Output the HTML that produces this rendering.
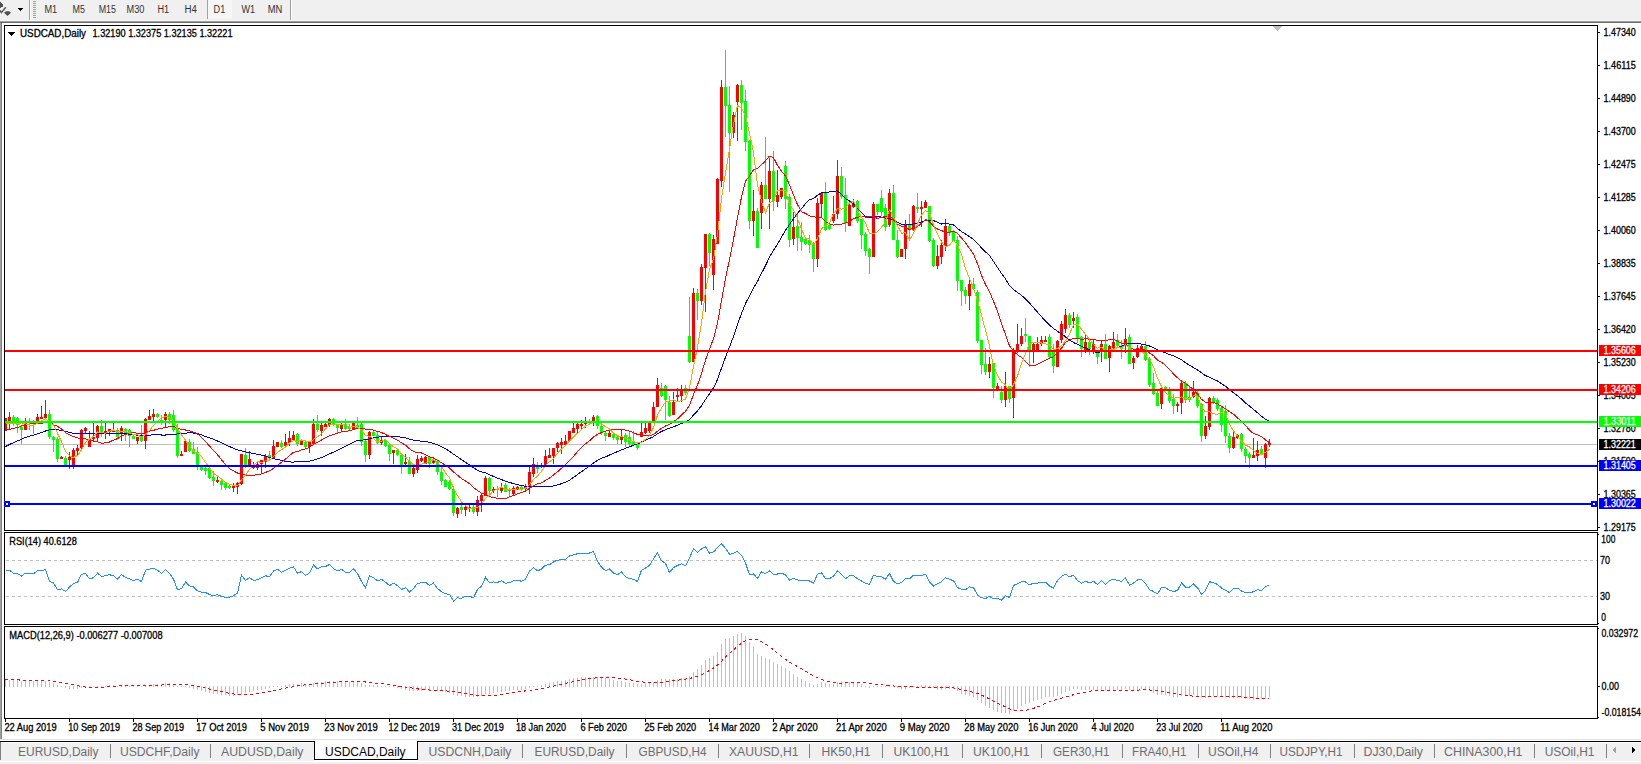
<!DOCTYPE html>
<html><head><meta charset="utf-8"><style>
html,body{margin:0;padding:0;background:#fff;width:1641px;height:764px;overflow:hidden}
svg{display:block}
text{font-family:"Liberation Sans", sans-serif;}
</style></head><body>
<svg width="1641" height="764" viewBox="0 0 1641 764" shape-rendering="crispEdges">
<rect x="0" y="0" width="1641" height="764" fill="#ffffff"/>
<rect x="0" y="0" width="1641" height="20" fill="#f0f0f0"/>
<rect x="0" y="20" width="1641" height="1" fill="#f5f5f5"/>
<rect x="0" y="21" width="1641" height="1" fill="#a0a0a0"/>
<rect x="0" y="22" width="1641" height="1" fill="#696969"/>
<rect x="0" y="23" width="1" height="716" fill="#a0a0a0"/>
<rect x="1" y="23" width="1" height="716" fill="#808080"/>
<path d="M0,2.3 L0.9,2.3 L3.9,6.3 L0,8 Z" fill="#505050"/>
<path d="M0,10.3 L1.4,12.6 L5.8,7.3" fill="none" stroke="#505050" stroke-width="1.4" shape-rendering="auto"/>
<path d="M6,11.2 L9.2,11.2 L11,12.8 L7.5,16 L4,12.8 Z" fill="#505050" shape-rendering="auto"/>
<path d="M17.8,8 L23,8 L20.4,11 Z" fill="#000"/>
<rect x="29" y="0" width="1" height="20" fill="#a0a0a0"/>
<rect x="30" y="0" width="1" height="20" fill="#ffffff"/>
<rect x="33" y="1" width="3" height="1" fill="#a0a0a0"/>
<rect x="33" y="3" width="3" height="1" fill="#a0a0a0"/>
<rect x="33" y="5" width="3" height="1" fill="#a0a0a0"/>
<rect x="33" y="7" width="3" height="1" fill="#a0a0a0"/>
<rect x="33" y="9" width="3" height="1" fill="#a0a0a0"/>
<rect x="33" y="11" width="3" height="1" fill="#a0a0a0"/>
<rect x="33" y="13" width="3" height="1" fill="#a0a0a0"/>
<rect x="33" y="15" width="3" height="1" fill="#a0a0a0"/>
<rect x="33" y="17" width="3" height="1" fill="#a0a0a0"/>
<rect x="207" y="0" width="25" height="19" fill="#f6f6f6"/>
<rect x="207" y="0" width="1" height="19" fill="#a0a0a0"/>
<rect x="290" y="0" width="1" height="20" fill="#a0a0a0"/>
<rect x="291" y="0" width="1" height="20" fill="#ffffff"/>
<text x="44.4" y="13" font-size="10" fill="#333333" textLength="12.8" lengthAdjust="spacingAndGlyphs" class="nostroke">M1</text>
<text x="72.6" y="13" font-size="10" fill="#333333" textLength="12.4" lengthAdjust="spacingAndGlyphs" class="nostroke">M5</text>
<text x="98.7" y="13" font-size="10" fill="#333333" textLength="17.3" lengthAdjust="spacingAndGlyphs" class="nostroke">M15</text>
<text x="126.5" y="13" font-size="10" fill="#333333" textLength="17.9" lengthAdjust="spacingAndGlyphs" class="nostroke">M30</text>
<text x="157.5" y="13" font-size="10" fill="#333333" textLength="11.7" lengthAdjust="spacingAndGlyphs" class="nostroke">H1</text>
<text x="184.6" y="13" font-size="10" fill="#333333" textLength="12.4" lengthAdjust="spacingAndGlyphs" class="nostroke">H4</text>
<text x="213.6" y="13" font-size="10" fill="#333333" textLength="11.7" lengthAdjust="spacingAndGlyphs" class="nostroke">D1</text>
<text x="241.4" y="13" font-size="10" fill="#333333" textLength="13.6" lengthAdjust="spacingAndGlyphs" class="nostroke">W1</text>
<text x="267.7" y="13" font-size="10" fill="#333333" textLength="14.6" lengthAdjust="spacingAndGlyphs" class="nostroke">MN</text>
<rect x="4.5" y="25.5" width="1593" height="505" fill="#fff" stroke="#000" stroke-width="1"/>
<rect x="4.5" y="532.5" width="1593" height="92" fill="#fff" stroke="#000" stroke-width="1"/>
<rect x="4.5" y="626.5" width="1593" height="92" fill="#fff" stroke="#000" stroke-width="1"/>
<defs><clipPath id="cm"><rect x="5" y="26" width="1592" height="504"/></clipPath><clipPath id="cr"><rect x="5" y="533" width="1592" height="91"/></clipPath><clipPath id="cd"><rect x="5" y="627" width="1592" height="91"/></clipPath></defs>
<g clip-path="url(#cm)">
<rect x="5" y="443.5" width="1592" height="1" fill="#c0c0c0"/>
<rect x="5.0" y="418.0" width="1" height="13.0" fill="#ff0000"/>
<rect x="4.0" y="418.0" width="3" height="13.0" fill="#ff0000"/>
<rect x="9.0" y="412.0" width="1" height="17.0" fill="#ff0000"/>
<rect x="8.0" y="417.0" width="3" height="4.0" fill="#ff0000"/>
<rect x="13.0" y="415.0" width="1" height="11.0" fill="#00ff00"/>
<rect x="12.0" y="417.0" width="3" height="7.0" fill="#00ff00"/>
<rect x="17.0" y="417.0" width="1" height="16.0" fill="#00ff00"/>
<rect x="16.0" y="418.0" width="3" height="7.0" fill="#00ff00"/>
<rect x="21.0" y="426.0" width="1" height="18.0" fill="#00ff00"/>
<rect x="20.0" y="427.0" width="3" height="3.0" fill="#00ff00"/>
<rect x="25.0" y="418.0" width="1" height="12.0" fill="#ff0000"/>
<rect x="24.0" y="423.0" width="3" height="7.0" fill="#ff0000"/>
<rect x="29.0" y="418.0" width="1" height="12.0" fill="#00ff00"/>
<rect x="28.0" y="422.0" width="3" height="1.0" fill="#00ff00"/>
<rect x="33.0" y="420.0" width="1" height="14.0" fill="#00ff00"/>
<rect x="32.0" y="421.0" width="3" height="3.0" fill="#00ff00"/>
<rect x="37.0" y="414.0" width="1" height="10.0" fill="#ff0000"/>
<rect x="36.0" y="417.0" width="3" height="7.0" fill="#ff0000"/>
<rect x="41.0" y="406.0" width="1" height="13.0" fill="#ff0000"/>
<rect x="40.0" y="417.0" width="3" height="2.0" fill="#ff0000"/>
<rect x="45.0" y="400.0" width="1" height="18.0" fill="#ff0000"/>
<rect x="44.0" y="414.0" width="3" height="4.0" fill="#ff0000"/>
<rect x="49.0" y="410.0" width="1" height="29.0" fill="#00ff00"/>
<rect x="48.0" y="414.0" width="3" height="23.0" fill="#00ff00"/>
<rect x="53.0" y="436.0" width="1" height="16.0" fill="#00ff00"/>
<rect x="52.0" y="437.0" width="3" height="3.0" fill="#00ff00"/>
<rect x="57.0" y="437.0" width="1" height="25.0" fill="#00ff00"/>
<rect x="56.0" y="439.0" width="3" height="20.0" fill="#00ff00"/>
<rect x="61.0" y="456.0" width="1" height="3.0" fill="#ff0000"/>
<rect x="60.0" y="457.0" width="3" height="2.0" fill="#ff0000"/>
<rect x="65.0" y="456.0" width="1" height="9.0" fill="#00ff00"/>
<rect x="64.0" y="458.0" width="3" height="7.0" fill="#00ff00"/>
<rect x="69.0" y="452.0" width="1" height="17.0" fill="#ff0000"/>
<rect x="68.0" y="457.0" width="3" height="3.0" fill="#ff0000"/>
<rect x="73.0" y="448.0" width="1" height="21.0" fill="#ff0000"/>
<rect x="72.0" y="450.0" width="3" height="15.0" fill="#ff0000"/>
<rect x="77.0" y="445.0" width="1" height="11.0" fill="#ff0000"/>
<rect x="76.0" y="448.0" width="3" height="3.0" fill="#ff0000"/>
<rect x="81.0" y="429.0" width="1" height="22.0" fill="#ff0000"/>
<rect x="80.0" y="430.0" width="3" height="18.0" fill="#ff0000"/>
<rect x="85.0" y="427.0" width="1" height="7.0" fill="#ff0000"/>
<rect x="84.0" y="428.0" width="3" height="3.0" fill="#ff0000"/>
<rect x="89.0" y="431.0" width="1" height="16.0" fill="#ff0000"/>
<rect x="88.0" y="439.0" width="3" height="8.0" fill="#ff0000"/>
<rect x="93.0" y="423.0" width="1" height="18.0" fill="#ff0000"/>
<rect x="92.0" y="437.0" width="3" height="2.0" fill="#ff0000"/>
<rect x="97.0" y="425.0" width="1" height="16.0" fill="#ff0000"/>
<rect x="96.0" y="426.0" width="3" height="12.0" fill="#ff0000"/>
<rect x="101.0" y="420.0" width="1" height="17.0" fill="#00ff00"/>
<rect x="100.0" y="426.0" width="3" height="7.0" fill="#00ff00"/>
<rect x="105.0" y="423.0" width="1" height="16.0" fill="#ff0000"/>
<rect x="104.0" y="431.0" width="3" height="3.0" fill="#ff0000"/>
<rect x="109.0" y="429.0" width="1" height="7.0" fill="#ff0000"/>
<rect x="108.0" y="429.0" width="3" height="3.0" fill="#ff0000"/>
<rect x="113.0" y="423.0" width="1" height="9.0" fill="#ff0000"/>
<rect x="112.0" y="431.0" width="3" height="1.0" fill="#ff0000"/>
<rect x="117.0" y="428.0" width="1" height="10.0" fill="#00ff00"/>
<rect x="116.0" y="430.0" width="3" height="7.0" fill="#00ff00"/>
<rect x="121.0" y="426.0" width="1" height="15.0" fill="#ff0000"/>
<rect x="120.0" y="428.0" width="3" height="6.0" fill="#ff0000"/>
<rect x="125.0" y="428.0" width="1" height="13.0" fill="#00ff00"/>
<rect x="124.0" y="429.0" width="3" height="4.0" fill="#00ff00"/>
<rect x="129.0" y="429.0" width="1" height="18.0" fill="#00ff00"/>
<rect x="128.0" y="430.0" width="3" height="6.0" fill="#00ff00"/>
<rect x="133.0" y="435.0" width="1" height="4.0" fill="#00ff00"/>
<rect x="132.0" y="436.0" width="3" height="3.0" fill="#00ff00"/>
<rect x="137.0" y="437.0" width="1" height="7.0" fill="#ff0000"/>
<rect x="136.0" y="437.0" width="3" height="4.0" fill="#ff0000"/>
<rect x="141.0" y="425.0" width="1" height="17.0" fill="#00ff00"/>
<rect x="140.0" y="437.0" width="3" height="4.0" fill="#00ff00"/>
<rect x="145.0" y="418.0" width="1" height="31.0" fill="#ff0000"/>
<rect x="144.0" y="419.0" width="3" height="22.0" fill="#ff0000"/>
<rect x="149.0" y="410.0" width="1" height="10.0" fill="#ff0000"/>
<rect x="148.0" y="416.0" width="3" height="4.0" fill="#ff0000"/>
<rect x="153.0" y="409.0" width="1" height="14.0" fill="#ff0000"/>
<rect x="152.0" y="414.0" width="3" height="3.0" fill="#ff0000"/>
<rect x="157.0" y="413.0" width="1" height="5.0" fill="#00ff00"/>
<rect x="156.0" y="414.0" width="3" height="3.0" fill="#00ff00"/>
<rect x="161.0" y="415.0" width="1" height="10.0" fill="#00ff00"/>
<rect x="160.0" y="420.0" width="3" height="2.0" fill="#00ff00"/>
<rect x="165.0" y="412.0" width="1" height="15.0" fill="#ff0000"/>
<rect x="164.0" y="414.0" width="3" height="6.0" fill="#ff0000"/>
<rect x="169.0" y="412.0" width="1" height="12.0" fill="#00ff00"/>
<rect x="168.0" y="414.0" width="3" height="6.0" fill="#00ff00"/>
<rect x="173.0" y="410.0" width="1" height="22.0" fill="#00ff00"/>
<rect x="172.0" y="415.0" width="3" height="15.0" fill="#00ff00"/>
<rect x="177.0" y="424.0" width="1" height="34.0" fill="#00ff00"/>
<rect x="176.0" y="428.0" width="3" height="28.0" fill="#00ff00"/>
<rect x="181.0" y="451.0" width="1" height="5.0" fill="#ff0000"/>
<rect x="180.0" y="454.0" width="3" height="2.0" fill="#ff0000"/>
<rect x="185.0" y="441.0" width="1" height="11.0" fill="#ff0000"/>
<rect x="184.0" y="441.0" width="3" height="11.0" fill="#ff0000"/>
<rect x="189.0" y="439.0" width="1" height="13.0" fill="#00ff00"/>
<rect x="188.0" y="442.0" width="3" height="9.0" fill="#00ff00"/>
<rect x="193.0" y="442.0" width="1" height="12.0" fill="#00ff00"/>
<rect x="192.0" y="449.0" width="3" height="5.0" fill="#00ff00"/>
<rect x="197.0" y="447.0" width="1" height="23.0" fill="#00ff00"/>
<rect x="196.0" y="452.0" width="3" height="14.0" fill="#00ff00"/>
<rect x="201.0" y="467.0" width="1" height="4.0" fill="#00ff00"/>
<rect x="200.0" y="467.0" width="3" height="3.0" fill="#00ff00"/>
<rect x="205.0" y="467.0" width="1" height="8.0" fill="#00ff00"/>
<rect x="204.0" y="468.0" width="3" height="3.0" fill="#00ff00"/>
<rect x="209.0" y="468.0" width="1" height="11.0" fill="#00ff00"/>
<rect x="208.0" y="468.0" width="3" height="10.0" fill="#00ff00"/>
<rect x="213.0" y="471.0" width="1" height="15.0" fill="#00ff00"/>
<rect x="212.0" y="477.0" width="3" height="4.0" fill="#00ff00"/>
<rect x="217.0" y="476.0" width="1" height="7.0" fill="#ff0000"/>
<rect x="216.0" y="480.0" width="3" height="2.0" fill="#ff0000"/>
<rect x="221.0" y="478.0" width="1" height="12.0" fill="#00ff00"/>
<rect x="220.0" y="481.0" width="3" height="4.0" fill="#00ff00"/>
<rect x="225.0" y="482.0" width="1" height="8.0" fill="#00ff00"/>
<rect x="224.0" y="483.0" width="3" height="5.0" fill="#00ff00"/>
<rect x="229.0" y="485.0" width="1" height="4.0" fill="#00ff00"/>
<rect x="228.0" y="486.0" width="3" height="2.0" fill="#00ff00"/>
<rect x="233.0" y="483.0" width="1" height="9.0" fill="#ff0000"/>
<rect x="232.0" y="486.0" width="3" height="2.0" fill="#ff0000"/>
<rect x="237.0" y="482.0" width="1" height="12.0" fill="#ff0000"/>
<rect x="236.0" y="483.0" width="3" height="4.0" fill="#ff0000"/>
<rect x="241.0" y="454.0" width="1" height="31.0" fill="#ff0000"/>
<rect x="240.0" y="454.0" width="3" height="30.0" fill="#ff0000"/>
<rect x="245.0" y="448.0" width="1" height="20.0" fill="#00ff00"/>
<rect x="244.0" y="455.0" width="3" height="10.0" fill="#00ff00"/>
<rect x="249.0" y="451.0" width="1" height="14.0" fill="#ff0000"/>
<rect x="248.0" y="459.0" width="3" height="6.0" fill="#ff0000"/>
<rect x="253.0" y="462.0" width="1" height="7.0" fill="#ff0000"/>
<rect x="252.0" y="465.0" width="3" height="3.0" fill="#ff0000"/>
<rect x="257.0" y="461.0" width="1" height="9.0" fill="#ff0000"/>
<rect x="256.0" y="464.0" width="3" height="4.0" fill="#ff0000"/>
<rect x="261.0" y="460.0" width="1" height="14.0" fill="#ff0000"/>
<rect x="260.0" y="460.0" width="3" height="4.0" fill="#ff0000"/>
<rect x="265.0" y="454.0" width="1" height="14.0" fill="#ff0000"/>
<rect x="264.0" y="456.0" width="3" height="6.0" fill="#ff0000"/>
<rect x="269.0" y="451.0" width="1" height="10.0" fill="#00ff00"/>
<rect x="268.0" y="455.0" width="3" height="3.0" fill="#00ff00"/>
<rect x="273.0" y="440.0" width="1" height="19.0" fill="#ff0000"/>
<rect x="272.0" y="446.0" width="3" height="12.0" fill="#ff0000"/>
<rect x="277.0" y="442.0" width="1" height="5.0" fill="#ff0000"/>
<rect x="276.0" y="442.0" width="3" height="5.0" fill="#ff0000"/>
<rect x="281.0" y="440.0" width="1" height="8.0" fill="#00ff00"/>
<rect x="280.0" y="443.0" width="3" height="4.0" fill="#00ff00"/>
<rect x="285.0" y="434.0" width="1" height="12.0" fill="#ff0000"/>
<rect x="284.0" y="442.0" width="3" height="4.0" fill="#ff0000"/>
<rect x="289.0" y="431.0" width="1" height="15.0" fill="#ff0000"/>
<rect x="288.0" y="438.0" width="3" height="5.0" fill="#ff0000"/>
<rect x="293.0" y="431.0" width="1" height="10.0" fill="#ff0000"/>
<rect x="292.0" y="435.0" width="3" height="5.0" fill="#ff0000"/>
<rect x="297.0" y="433.0" width="1" height="13.0" fill="#00ff00"/>
<rect x="296.0" y="434.0" width="3" height="10.0" fill="#00ff00"/>
<rect x="301.0" y="441.0" width="1" height="4.0" fill="#ff0000"/>
<rect x="300.0" y="441.0" width="3" height="4.0" fill="#ff0000"/>
<rect x="305.0" y="440.0" width="1" height="8.0" fill="#00ff00"/>
<rect x="304.0" y="442.0" width="3" height="5.0" fill="#00ff00"/>
<rect x="309.0" y="442.0" width="1" height="11.0" fill="#ff0000"/>
<rect x="308.0" y="442.0" width="3" height="5.0" fill="#ff0000"/>
<rect x="313.0" y="419.0" width="1" height="25.0" fill="#ff0000"/>
<rect x="312.0" y="424.0" width="3" height="20.0" fill="#ff0000"/>
<rect x="317.0" y="415.0" width="1" height="17.0" fill="#00ff00"/>
<rect x="316.0" y="424.0" width="3" height="6.0" fill="#00ff00"/>
<rect x="321.0" y="423.0" width="1" height="13.0" fill="#ff0000"/>
<rect x="320.0" y="425.0" width="3" height="6.0" fill="#ff0000"/>
<rect x="325.0" y="423.0" width="1" height="4.0" fill="#ff0000"/>
<rect x="324.0" y="424.0" width="3" height="3.0" fill="#ff0000"/>
<rect x="329.0" y="418.0" width="1" height="9.0" fill="#ff0000"/>
<rect x="328.0" y="419.0" width="3" height="6.0" fill="#ff0000"/>
<rect x="333.0" y="418.0" width="1" height="8.0" fill="#00ff00"/>
<rect x="332.0" y="419.0" width="3" height="6.0" fill="#00ff00"/>
<rect x="337.0" y="424.0" width="1" height="10.0" fill="#00ff00"/>
<rect x="336.0" y="425.0" width="3" height="3.0" fill="#00ff00"/>
<rect x="341.0" y="423.0" width="1" height="8.0" fill="#ff0000"/>
<rect x="340.0" y="425.0" width="3" height="4.0" fill="#ff0000"/>
<rect x="345.0" y="419.0" width="1" height="11.0" fill="#00ff00"/>
<rect x="344.0" y="424.0" width="3" height="5.0" fill="#00ff00"/>
<rect x="349.0" y="424.0" width="1" height="6.0" fill="#00ff00"/>
<rect x="348.0" y="427.0" width="3" height="2.0" fill="#00ff00"/>
<rect x="353.0" y="423.0" width="1" height="6.0" fill="#ff0000"/>
<rect x="352.0" y="423.0" width="3" height="6.0" fill="#ff0000"/>
<rect x="357.0" y="417.0" width="1" height="12.0" fill="#00ff00"/>
<rect x="356.0" y="425.0" width="3" height="4.0" fill="#00ff00"/>
<rect x="361.0" y="423.0" width="1" height="23.0" fill="#00ff00"/>
<rect x="360.0" y="424.0" width="3" height="18.0" fill="#00ff00"/>
<rect x="365.0" y="440.0" width="1" height="22.0" fill="#00ff00"/>
<rect x="364.0" y="441.0" width="3" height="14.0" fill="#00ff00"/>
<rect x="369.0" y="431.0" width="1" height="28.0" fill="#ff0000"/>
<rect x="368.0" y="432.0" width="3" height="23.0" fill="#ff0000"/>
<rect x="373.0" y="431.0" width="1" height="5.0" fill="#00ff00"/>
<rect x="372.0" y="432.0" width="3" height="4.0" fill="#00ff00"/>
<rect x="377.0" y="432.0" width="1" height="12.0" fill="#00ff00"/>
<rect x="376.0" y="435.0" width="3" height="8.0" fill="#00ff00"/>
<rect x="381.0" y="436.0" width="1" height="9.0" fill="#ff0000"/>
<rect x="380.0" y="440.0" width="3" height="3.0" fill="#ff0000"/>
<rect x="385.0" y="439.0" width="1" height="8.0" fill="#00ff00"/>
<rect x="384.0" y="440.0" width="3" height="6.0" fill="#00ff00"/>
<rect x="389.0" y="444.0" width="1" height="17.0" fill="#00ff00"/>
<rect x="388.0" y="445.0" width="3" height="9.0" fill="#00ff00"/>
<rect x="393.0" y="450.0" width="1" height="14.0" fill="#ff0000"/>
<rect x="392.0" y="450.0" width="3" height="3.0" fill="#ff0000"/>
<rect x="397.0" y="449.0" width="1" height="7.0" fill="#00ff00"/>
<rect x="396.0" y="450.0" width="3" height="5.0" fill="#00ff00"/>
<rect x="401.0" y="453.0" width="1" height="21.0" fill="#00ff00"/>
<rect x="400.0" y="455.0" width="3" height="10.0" fill="#00ff00"/>
<rect x="405.0" y="454.0" width="1" height="11.0" fill="#ff0000"/>
<rect x="404.0" y="462.0" width="3" height="2.0" fill="#ff0000"/>
<rect x="409.0" y="457.0" width="1" height="17.0" fill="#00ff00"/>
<rect x="408.0" y="461.0" width="3" height="13.0" fill="#00ff00"/>
<rect x="413.0" y="467.0" width="1" height="10.0" fill="#ff0000"/>
<rect x="412.0" y="468.0" width="3" height="6.0" fill="#ff0000"/>
<rect x="417.0" y="455.0" width="1" height="18.0" fill="#ff0000"/>
<rect x="416.0" y="459.0" width="3" height="11.0" fill="#ff0000"/>
<rect x="421.0" y="456.0" width="1" height="6.0" fill="#ff0000"/>
<rect x="420.0" y="458.0" width="3" height="3.0" fill="#ff0000"/>
<rect x="425.0" y="456.0" width="1" height="8.0" fill="#ff0000"/>
<rect x="424.0" y="457.0" width="3" height="7.0" fill="#ff0000"/>
<rect x="429.0" y="456.0" width="1" height="12.0" fill="#00ff00"/>
<rect x="428.0" y="457.0" width="3" height="7.0" fill="#00ff00"/>
<rect x="433.0" y="459.0" width="1" height="5.0" fill="#ff0000"/>
<rect x="432.0" y="460.0" width="3" height="3.0" fill="#ff0000"/>
<rect x="437.0" y="460.0" width="1" height="15.0" fill="#00ff00"/>
<rect x="436.0" y="461.0" width="3" height="11.0" fill="#00ff00"/>
<rect x="441.0" y="468.0" width="1" height="17.0" fill="#00ff00"/>
<rect x="440.0" y="472.0" width="3" height="9.0" fill="#00ff00"/>
<rect x="445.0" y="479.0" width="1" height="8.0" fill="#00ff00"/>
<rect x="444.0" y="480.0" width="3" height="7.0" fill="#00ff00"/>
<rect x="449.0" y="480.0" width="1" height="10.0" fill="#00ff00"/>
<rect x="448.0" y="482.0" width="3" height="7.0" fill="#00ff00"/>
<rect x="453.0" y="486.0" width="1" height="30.0" fill="#00ff00"/>
<rect x="452.0" y="489.0" width="3" height="24.0" fill="#00ff00"/>
<rect x="457.0" y="507.0" width="1" height="11.0" fill="#ff0000"/>
<rect x="456.0" y="508.0" width="3" height="6.0" fill="#ff0000"/>
<rect x="461.0" y="502.0" width="1" height="12.0" fill="#00ff00"/>
<rect x="460.0" y="507.0" width="3" height="3.0" fill="#00ff00"/>
<rect x="465.0" y="504.0" width="1" height="12.0" fill="#ff0000"/>
<rect x="464.0" y="507.0" width="3" height="3.0" fill="#ff0000"/>
<rect x="469.0" y="505.0" width="1" height="7.0" fill="#ff0000"/>
<rect x="468.0" y="507.0" width="3" height="2.0" fill="#ff0000"/>
<rect x="473.0" y="505.0" width="1" height="9.0" fill="#00ff00"/>
<rect x="472.0" y="507.0" width="3" height="5.0" fill="#00ff00"/>
<rect x="477.0" y="496.0" width="1" height="20.0" fill="#ff0000"/>
<rect x="476.0" y="500.0" width="3" height="12.0" fill="#ff0000"/>
<rect x="481.0" y="493.0" width="1" height="19.0" fill="#ff0000"/>
<rect x="480.0" y="495.0" width="3" height="6.0" fill="#ff0000"/>
<rect x="485.0" y="476.0" width="1" height="20.0" fill="#ff0000"/>
<rect x="484.0" y="478.0" width="3" height="18.0" fill="#ff0000"/>
<rect x="489.0" y="477.0" width="1" height="20.0" fill="#00ff00"/>
<rect x="488.0" y="478.0" width="3" height="13.0" fill="#00ff00"/>
<rect x="493.0" y="487.0" width="1" height="6.0" fill="#ff0000"/>
<rect x="492.0" y="489.0" width="3" height="2.0" fill="#ff0000"/>
<rect x="497.0" y="486.0" width="1" height="11.0" fill="#00ff00"/>
<rect x="496.0" y="489.0" width="3" height="1.0" fill="#00ff00"/>
<rect x="501.0" y="483.0" width="1" height="10.0" fill="#ff0000"/>
<rect x="500.0" y="487.0" width="3" height="4.0" fill="#ff0000"/>
<rect x="505.0" y="483.0" width="1" height="9.0" fill="#00ff00"/>
<rect x="504.0" y="485.0" width="3" height="7.0" fill="#00ff00"/>
<rect x="509.0" y="488.0" width="1" height="9.0" fill="#00ff00"/>
<rect x="508.0" y="489.0" width="3" height="2.0" fill="#00ff00"/>
<rect x="513.0" y="486.0" width="1" height="9.0" fill="#ff0000"/>
<rect x="512.0" y="488.0" width="3" height="6.0" fill="#ff0000"/>
<rect x="517.0" y="486.0" width="1" height="4.0" fill="#ff0000"/>
<rect x="516.0" y="487.0" width="3" height="2.0" fill="#ff0000"/>
<rect x="521.0" y="485.0" width="1" height="6.0" fill="#00ff00"/>
<rect x="520.0" y="487.0" width="3" height="2.0" fill="#00ff00"/>
<rect x="525.0" y="484.0" width="1" height="7.0" fill="#ff0000"/>
<rect x="524.0" y="486.0" width="3" height="3.0" fill="#ff0000"/>
<rect x="529.0" y="467.0" width="1" height="27.0" fill="#ff0000"/>
<rect x="528.0" y="472.0" width="3" height="15.0" fill="#ff0000"/>
<rect x="533.0" y="458.0" width="1" height="19.0" fill="#ff0000"/>
<rect x="532.0" y="464.0" width="3" height="10.0" fill="#ff0000"/>
<rect x="537.0" y="462.0" width="1" height="11.0" fill="#00ff00"/>
<rect x="536.0" y="465.0" width="3" height="4.0" fill="#00ff00"/>
<rect x="541.0" y="463.0" width="1" height="5.0" fill="#ff0000"/>
<rect x="540.0" y="465.0" width="3" height="2.0" fill="#ff0000"/>
<rect x="545.0" y="450.0" width="1" height="15.0" fill="#ff0000"/>
<rect x="544.0" y="456.0" width="3" height="9.0" fill="#ff0000"/>
<rect x="549.0" y="448.0" width="1" height="10.0" fill="#ff0000"/>
<rect x="548.0" y="455.0" width="3" height="3.0" fill="#ff0000"/>
<rect x="553.0" y="448.0" width="1" height="16.0" fill="#ff0000"/>
<rect x="552.0" y="448.0" width="3" height="8.0" fill="#ff0000"/>
<rect x="557.0" y="442.0" width="1" height="10.0" fill="#ff0000"/>
<rect x="556.0" y="443.0" width="3" height="5.0" fill="#ff0000"/>
<rect x="561.0" y="438.0" width="1" height="16.0" fill="#ff0000"/>
<rect x="560.0" y="442.0" width="3" height="3.0" fill="#ff0000"/>
<rect x="565.0" y="435.0" width="1" height="11.0" fill="#ff0000"/>
<rect x="564.0" y="441.0" width="3" height="4.0" fill="#ff0000"/>
<rect x="569.0" y="431.0" width="1" height="11.0" fill="#ff0000"/>
<rect x="568.0" y="431.0" width="3" height="10.0" fill="#ff0000"/>
<rect x="573.0" y="423.0" width="1" height="10.0" fill="#ff0000"/>
<rect x="572.0" y="428.0" width="3" height="5.0" fill="#ff0000"/>
<rect x="577.0" y="423.0" width="1" height="10.0" fill="#ff0000"/>
<rect x="576.0" y="424.0" width="3" height="5.0" fill="#ff0000"/>
<rect x="581.0" y="420.0" width="1" height="10.0" fill="#ff0000"/>
<rect x="580.0" y="424.0" width="3" height="2.0" fill="#ff0000"/>
<rect x="585.0" y="417.0" width="1" height="11.0" fill="#ff0000"/>
<rect x="584.0" y="423.0" width="3" height="1.0" fill="#ff0000"/>
<rect x="589.0" y="419.0" width="1" height="5.0" fill="#00ff00"/>
<rect x="588.0" y="421.0" width="3" height="1.0" fill="#00ff00"/>
<rect x="593.0" y="415.0" width="1" height="11.0" fill="#ff0000"/>
<rect x="592.0" y="417.0" width="3" height="4.0" fill="#ff0000"/>
<rect x="597.0" y="415.0" width="1" height="14.0" fill="#00ff00"/>
<rect x="596.0" y="416.0" width="3" height="10.0" fill="#00ff00"/>
<rect x="601.0" y="425.0" width="1" height="10.0" fill="#00ff00"/>
<rect x="600.0" y="426.0" width="3" height="6.0" fill="#00ff00"/>
<rect x="605.0" y="431.0" width="1" height="10.0" fill="#00ff00"/>
<rect x="604.0" y="433.0" width="3" height="3.0" fill="#00ff00"/>
<rect x="609.0" y="429.0" width="1" height="8.0" fill="#ff0000"/>
<rect x="608.0" y="433.0" width="3" height="4.0" fill="#ff0000"/>
<rect x="613.0" y="433.0" width="1" height="7.0" fill="#00ff00"/>
<rect x="612.0" y="434.0" width="3" height="4.0" fill="#00ff00"/>
<rect x="617.0" y="436.0" width="1" height="8.0" fill="#00ff00"/>
<rect x="616.0" y="437.0" width="3" height="3.0" fill="#00ff00"/>
<rect x="621.0" y="429.0" width="1" height="15.0" fill="#ff0000"/>
<rect x="620.0" y="436.0" width="3" height="4.0" fill="#ff0000"/>
<rect x="625.0" y="433.0" width="1" height="14.0" fill="#00ff00"/>
<rect x="624.0" y="435.0" width="3" height="7.0" fill="#00ff00"/>
<rect x="629.0" y="431.0" width="1" height="15.0" fill="#00ff00"/>
<rect x="628.0" y="437.0" width="3" height="7.0" fill="#00ff00"/>
<rect x="633.0" y="431.0" width="1" height="15.0" fill="#00ff00"/>
<rect x="632.0" y="442.0" width="3" height="3.0" fill="#00ff00"/>
<rect x="637.0" y="443.0" width="1" height="7.0" fill="#00ff00"/>
<rect x="636.0" y="444.0" width="3" height="4.0" fill="#00ff00"/>
<rect x="641.0" y="422.0" width="1" height="15.0" fill="#ff0000"/>
<rect x="640.0" y="432.0" width="3" height="5.0" fill="#ff0000"/>
<rect x="645.0" y="423.0" width="1" height="11.0" fill="#ff0000"/>
<rect x="644.0" y="428.0" width="3" height="5.0" fill="#ff0000"/>
<rect x="649.0" y="422.0" width="1" height="11.0" fill="#ff0000"/>
<rect x="648.0" y="423.0" width="3" height="8.0" fill="#ff0000"/>
<rect x="653.0" y="402.0" width="1" height="20.0" fill="#ff0000"/>
<rect x="652.0" y="407.0" width="3" height="14.0" fill="#ff0000"/>
<rect x="657.0" y="378.0" width="1" height="29.0" fill="#ff0000"/>
<rect x="656.0" y="385.0" width="3" height="22.0" fill="#ff0000"/>
<rect x="661.0" y="383.0" width="1" height="14.0" fill="#00ff00"/>
<rect x="660.0" y="388.0" width="3" height="8.0" fill="#00ff00"/>
<rect x="665.0" y="385.0" width="1" height="35.0" fill="#00ff00"/>
<rect x="664.0" y="386.0" width="3" height="14.0" fill="#00ff00"/>
<rect x="669.0" y="396.0" width="1" height="21.0" fill="#00ff00"/>
<rect x="668.0" y="402.0" width="3" height="14.0" fill="#00ff00"/>
<rect x="673.0" y="392.0" width="1" height="23.0" fill="#ff0000"/>
<rect x="672.0" y="402.0" width="3" height="13.0" fill="#ff0000"/>
<rect x="677.0" y="388.0" width="1" height="13.0" fill="#ff0000"/>
<rect x="676.0" y="395.0" width="3" height="2.0" fill="#ff0000"/>
<rect x="681.0" y="385.0" width="1" height="17.0" fill="#ff0000"/>
<rect x="680.0" y="389.0" width="3" height="7.0" fill="#ff0000"/>
<rect x="685.0" y="385.0" width="1" height="10.0" fill="#00ff00"/>
<rect x="684.0" y="388.0" width="3" height="5.0" fill="#00ff00"/>
<rect x="689.0" y="297.0" width="1" height="66.0" fill="#00ff00"/>
<rect x="688.0" y="336.0" width="3" height="26.0" fill="#00ff00"/>
<rect x="693.0" y="288.0" width="1" height="74.0" fill="#ff0000"/>
<rect x="692.0" y="293.0" width="3" height="69.0" fill="#ff0000"/>
<rect x="697.0" y="289.0" width="1" height="31.0" fill="#00ff00"/>
<rect x="696.0" y="293.0" width="3" height="8.0" fill="#00ff00"/>
<rect x="701.0" y="264.0" width="1" height="41.0" fill="#ff0000"/>
<rect x="700.0" y="267.0" width="3" height="34.0" fill="#ff0000"/>
<rect x="705.0" y="234.0" width="1" height="78.0" fill="#ff0000"/>
<rect x="704.0" y="234.0" width="3" height="34.0" fill="#ff0000"/>
<rect x="709.0" y="233.0" width="1" height="33.0" fill="#00ff00"/>
<rect x="708.0" y="234.0" width="3" height="19.0" fill="#00ff00"/>
<rect x="713.0" y="235.0" width="1" height="55.0" fill="#ff0000"/>
<rect x="712.0" y="239.0" width="3" height="36.0" fill="#ff0000"/>
<rect x="717.0" y="178.0" width="1" height="66.0" fill="#ff0000"/>
<rect x="716.0" y="179.0" width="3" height="65.0" fill="#ff0000"/>
<rect x="721.0" y="80.0" width="1" height="107.0" fill="#ff0000"/>
<rect x="720.0" y="87.0" width="3" height="94.0" fill="#ff0000"/>
<rect x="725.0" y="50.0" width="1" height="87.0" fill="#00ff00"/>
<rect x="724.0" y="87.0" width="3" height="19.0" fill="#00ff00"/>
<rect x="729.0" y="86.0" width="1" height="106.0" fill="#00ff00"/>
<rect x="728.0" y="105.0" width="3" height="28.0" fill="#00ff00"/>
<rect x="733.0" y="112.0" width="1" height="26.0" fill="#ff0000"/>
<rect x="732.0" y="115.0" width="3" height="18.0" fill="#ff0000"/>
<rect x="737.0" y="84.0" width="1" height="57.0" fill="#ff0000"/>
<rect x="736.0" y="85.0" width="3" height="17.0" fill="#ff0000"/>
<rect x="741.0" y="80.0" width="1" height="50.0" fill="#00ff00"/>
<rect x="740.0" y="85.0" width="3" height="18.0" fill="#00ff00"/>
<rect x="745.0" y="90.0" width="1" height="61.0" fill="#00ff00"/>
<rect x="744.0" y="101.0" width="3" height="41.0" fill="#00ff00"/>
<rect x="749.0" y="140.0" width="1" height="89.0" fill="#00ff00"/>
<rect x="748.0" y="141.0" width="3" height="80.0" fill="#00ff00"/>
<rect x="753.0" y="190.0" width="1" height="46.0" fill="#ff0000"/>
<rect x="752.0" y="211.0" width="3" height="10.0" fill="#ff0000"/>
<rect x="757.0" y="208.0" width="1" height="40.0" fill="#00ff00"/>
<rect x="756.0" y="211.0" width="3" height="37.0" fill="#00ff00"/>
<rect x="761.0" y="182.0" width="1" height="47.0" fill="#ff0000"/>
<rect x="760.0" y="185.0" width="3" height="28.0" fill="#ff0000"/>
<rect x="765.0" y="137.0" width="1" height="62.0" fill="#00ff00"/>
<rect x="764.0" y="185.0" width="3" height="14.0" fill="#00ff00"/>
<rect x="769.0" y="158.0" width="1" height="71.0" fill="#ff0000"/>
<rect x="768.0" y="171.0" width="3" height="28.0" fill="#ff0000"/>
<rect x="773.0" y="151.0" width="1" height="60.0" fill="#00ff00"/>
<rect x="772.0" y="171.0" width="3" height="30.0" fill="#00ff00"/>
<rect x="777.0" y="170.0" width="1" height="37.0" fill="#ff0000"/>
<rect x="776.0" y="195.0" width="3" height="7.0" fill="#ff0000"/>
<rect x="781.0" y="188.0" width="1" height="11.0" fill="#ff0000"/>
<rect x="780.0" y="188.0" width="3" height="9.0" fill="#ff0000"/>
<rect x="785.0" y="161.0" width="1" height="48.0" fill="#00ff00"/>
<rect x="784.0" y="166.0" width="3" height="33.0" fill="#00ff00"/>
<rect x="789.0" y="194.0" width="1" height="53.0" fill="#00ff00"/>
<rect x="788.0" y="197.0" width="3" height="43.0" fill="#00ff00"/>
<rect x="793.0" y="212.0" width="1" height="33.0" fill="#ff0000"/>
<rect x="792.0" y="227.0" width="3" height="12.0" fill="#ff0000"/>
<rect x="797.0" y="212.0" width="1" height="39.0" fill="#00ff00"/>
<rect x="796.0" y="226.0" width="3" height="12.0" fill="#00ff00"/>
<rect x="801.0" y="222.0" width="1" height="29.0" fill="#00ff00"/>
<rect x="800.0" y="237.0" width="3" height="5.0" fill="#00ff00"/>
<rect x="805.0" y="237.0" width="1" height="8.0" fill="#00ff00"/>
<rect x="804.0" y="239.0" width="3" height="5.0" fill="#00ff00"/>
<rect x="809.0" y="235.0" width="1" height="18.0" fill="#00ff00"/>
<rect x="808.0" y="240.0" width="3" height="5.0" fill="#00ff00"/>
<rect x="813.0" y="242.0" width="1" height="30.0" fill="#00ff00"/>
<rect x="812.0" y="244.0" width="3" height="15.0" fill="#00ff00"/>
<rect x="817.0" y="198.0" width="1" height="69.0" fill="#ff0000"/>
<rect x="816.0" y="203.0" width="3" height="56.0" fill="#ff0000"/>
<rect x="821.0" y="192.0" width="1" height="26.0" fill="#ff0000"/>
<rect x="820.0" y="193.0" width="3" height="11.0" fill="#ff0000"/>
<rect x="825.0" y="182.0" width="1" height="49.0" fill="#00ff00"/>
<rect x="824.0" y="192.0" width="3" height="38.0" fill="#00ff00"/>
<rect x="829.0" y="222.0" width="1" height="8.0" fill="#00ff00"/>
<rect x="828.0" y="225.0" width="3" height="4.0" fill="#00ff00"/>
<rect x="833.0" y="196.0" width="1" height="27.0" fill="#ff0000"/>
<rect x="832.0" y="214.0" width="3" height="7.0" fill="#ff0000"/>
<rect x="837.0" y="160.0" width="1" height="59.0" fill="#ff0000"/>
<rect x="836.0" y="176.0" width="3" height="38.0" fill="#ff0000"/>
<rect x="841.0" y="167.0" width="1" height="32.0" fill="#00ff00"/>
<rect x="840.0" y="176.0" width="3" height="21.0" fill="#00ff00"/>
<rect x="845.0" y="178.0" width="1" height="54.0" fill="#00ff00"/>
<rect x="844.0" y="195.0" width="3" height="28.0" fill="#00ff00"/>
<rect x="849.0" y="201.0" width="1" height="25.0" fill="#ff0000"/>
<rect x="848.0" y="205.0" width="3" height="21.0" fill="#ff0000"/>
<rect x="853.0" y="199.0" width="1" height="9.0" fill="#ff0000"/>
<rect x="852.0" y="203.0" width="3" height="4.0" fill="#ff0000"/>
<rect x="857.0" y="200.0" width="1" height="23.0" fill="#00ff00"/>
<rect x="856.0" y="201.0" width="3" height="20.0" fill="#00ff00"/>
<rect x="861.0" y="219.0" width="1" height="30.0" fill="#00ff00"/>
<rect x="860.0" y="219.0" width="3" height="16.0" fill="#00ff00"/>
<rect x="865.0" y="232.0" width="1" height="24.0" fill="#00ff00"/>
<rect x="864.0" y="234.0" width="3" height="17.0" fill="#00ff00"/>
<rect x="869.0" y="248.0" width="1" height="26.0" fill="#00ff00"/>
<rect x="868.0" y="249.0" width="3" height="8.0" fill="#00ff00"/>
<rect x="873.0" y="202.0" width="1" height="55.0" fill="#ff0000"/>
<rect x="872.0" y="204.0" width="3" height="53.0" fill="#ff0000"/>
<rect x="877.0" y="204.0" width="1" height="11.0" fill="#00ff00"/>
<rect x="876.0" y="204.0" width="3" height="8.0" fill="#00ff00"/>
<rect x="881.0" y="190.0" width="1" height="26.0" fill="#00ff00"/>
<rect x="880.0" y="198.0" width="3" height="14.0" fill="#00ff00"/>
<rect x="885.0" y="204.0" width="1" height="27.0" fill="#00ff00"/>
<rect x="884.0" y="208.0" width="3" height="19.0" fill="#00ff00"/>
<rect x="889.0" y="189.0" width="1" height="38.0" fill="#ff0000"/>
<rect x="888.0" y="193.0" width="3" height="32.0" fill="#ff0000"/>
<rect x="893.0" y="185.0" width="1" height="55.0" fill="#00ff00"/>
<rect x="892.0" y="193.0" width="3" height="47.0" fill="#00ff00"/>
<rect x="897.0" y="230.0" width="1" height="28.0" fill="#00ff00"/>
<rect x="896.0" y="240.0" width="3" height="17.0" fill="#00ff00"/>
<rect x="901.0" y="249.0" width="1" height="8.0" fill="#ff0000"/>
<rect x="900.0" y="249.0" width="3" height="8.0" fill="#ff0000"/>
<rect x="905.0" y="220.0" width="1" height="39.0" fill="#ff0000"/>
<rect x="904.0" y="225.0" width="3" height="24.0" fill="#ff0000"/>
<rect x="909.0" y="214.0" width="1" height="25.0" fill="#00ff00"/>
<rect x="908.0" y="225.0" width="3" height="4.0" fill="#00ff00"/>
<rect x="913.0" y="205.0" width="1" height="26.0" fill="#ff0000"/>
<rect x="912.0" y="206.0" width="3" height="24.0" fill="#ff0000"/>
<rect x="917.0" y="193.0" width="1" height="20.0" fill="#00ff00"/>
<rect x="916.0" y="207.0" width="3" height="2.0" fill="#00ff00"/>
<rect x="921.0" y="201.0" width="1" height="26.0" fill="#ff0000"/>
<rect x="920.0" y="207.0" width="3" height="2.0" fill="#ff0000"/>
<rect x="925.0" y="200.0" width="1" height="8.0" fill="#ff0000"/>
<rect x="924.0" y="202.0" width="3" height="6.0" fill="#ff0000"/>
<rect x="929.0" y="206.0" width="1" height="36.0" fill="#00ff00"/>
<rect x="928.0" y="206.0" width="3" height="35.0" fill="#00ff00"/>
<rect x="933.0" y="238.0" width="1" height="29.0" fill="#00ff00"/>
<rect x="932.0" y="240.0" width="3" height="26.0" fill="#00ff00"/>
<rect x="937.0" y="245.0" width="1" height="24.0" fill="#ff0000"/>
<rect x="936.0" y="256.0" width="3" height="10.0" fill="#ff0000"/>
<rect x="941.0" y="240.0" width="1" height="24.0" fill="#ff0000"/>
<rect x="940.0" y="245.0" width="3" height="12.0" fill="#ff0000"/>
<rect x="945.0" y="219.0" width="1" height="32.0" fill="#ff0000"/>
<rect x="944.0" y="226.0" width="3" height="20.0" fill="#ff0000"/>
<rect x="949.0" y="225.0" width="1" height="11.0" fill="#00ff00"/>
<rect x="948.0" y="226.0" width="3" height="7.0" fill="#00ff00"/>
<rect x="953.0" y="230.0" width="1" height="11.0" fill="#00ff00"/>
<rect x="952.0" y="232.0" width="3" height="9.0" fill="#00ff00"/>
<rect x="957.0" y="236.0" width="1" height="55.0" fill="#00ff00"/>
<rect x="956.0" y="240.0" width="3" height="41.0" fill="#00ff00"/>
<rect x="961.0" y="280.0" width="1" height="26.0" fill="#00ff00"/>
<rect x="960.0" y="280.0" width="3" height="11.0" fill="#00ff00"/>
<rect x="965.0" y="287.0" width="1" height="17.0" fill="#00ff00"/>
<rect x="964.0" y="290.0" width="3" height="6.0" fill="#00ff00"/>
<rect x="969.0" y="280.0" width="1" height="30.0" fill="#ff0000"/>
<rect x="968.0" y="284.0" width="3" height="12.0" fill="#ff0000"/>
<rect x="973.0" y="278.0" width="1" height="12.0" fill="#00ff00"/>
<rect x="972.0" y="284.0" width="3" height="5.0" fill="#00ff00"/>
<rect x="977.0" y="290.0" width="1" height="53.0" fill="#00ff00"/>
<rect x="976.0" y="292.0" width="3" height="49.0" fill="#00ff00"/>
<rect x="981.0" y="340.0" width="1" height="34.0" fill="#00ff00"/>
<rect x="980.0" y="340.0" width="3" height="25.0" fill="#00ff00"/>
<rect x="985.0" y="348.0" width="1" height="27.0" fill="#00ff00"/>
<rect x="984.0" y="364.0" width="3" height="8.0" fill="#00ff00"/>
<rect x="989.0" y="357.0" width="1" height="21.0" fill="#ff0000"/>
<rect x="988.0" y="364.0" width="3" height="8.0" fill="#ff0000"/>
<rect x="993.0" y="363.0" width="1" height="35.0" fill="#00ff00"/>
<rect x="992.0" y="363.0" width="3" height="25.0" fill="#00ff00"/>
<rect x="997.0" y="383.0" width="1" height="8.0" fill="#ff0000"/>
<rect x="996.0" y="386.0" width="3" height="3.0" fill="#ff0000"/>
<rect x="1001.0" y="386.0" width="1" height="17.0" fill="#00ff00"/>
<rect x="1000.0" y="392.0" width="3" height="8.0" fill="#00ff00"/>
<rect x="1005.0" y="372.0" width="1" height="35.0" fill="#ff0000"/>
<rect x="1004.0" y="386.0" width="3" height="14.0" fill="#ff0000"/>
<rect x="1009.0" y="386.0" width="1" height="17.0" fill="#00ff00"/>
<rect x="1008.0" y="386.0" width="3" height="13.0" fill="#00ff00"/>
<rect x="1013.0" y="348.0" width="1" height="70.0" fill="#ff0000"/>
<rect x="1012.0" y="352.0" width="3" height="46.0" fill="#ff0000"/>
<rect x="1017.0" y="324.0" width="1" height="29.0" fill="#ff0000"/>
<rect x="1016.0" y="344.0" width="3" height="8.0" fill="#ff0000"/>
<rect x="1021.0" y="328.0" width="1" height="18.0" fill="#ff0000"/>
<rect x="1020.0" y="336.0" width="3" height="8.0" fill="#ff0000"/>
<rect x="1025.0" y="318.0" width="1" height="24.0" fill="#00ff00"/>
<rect x="1024.0" y="334.0" width="3" height="2.0" fill="#00ff00"/>
<rect x="1029.0" y="336.0" width="1" height="31.0" fill="#00ff00"/>
<rect x="1028.0" y="336.0" width="3" height="15.0" fill="#00ff00"/>
<rect x="1033.0" y="342.0" width="1" height="21.0" fill="#ff0000"/>
<rect x="1032.0" y="344.0" width="3" height="7.0" fill="#ff0000"/>
<rect x="1037.0" y="337.0" width="1" height="14.0" fill="#ff0000"/>
<rect x="1036.0" y="344.0" width="3" height="7.0" fill="#ff0000"/>
<rect x="1041.0" y="336.0" width="1" height="10.0" fill="#ff0000"/>
<rect x="1040.0" y="340.0" width="3" height="4.0" fill="#ff0000"/>
<rect x="1045.0" y="336.0" width="1" height="6.0" fill="#ff0000"/>
<rect x="1044.0" y="340.0" width="3" height="2.0" fill="#ff0000"/>
<rect x="1049.0" y="334.0" width="1" height="24.0" fill="#00ff00"/>
<rect x="1048.0" y="337.0" width="3" height="20.0" fill="#00ff00"/>
<rect x="1053.0" y="344.0" width="1" height="29.0" fill="#00ff00"/>
<rect x="1052.0" y="352.0" width="3" height="14.0" fill="#00ff00"/>
<rect x="1057.0" y="340.0" width="1" height="27.0" fill="#ff0000"/>
<rect x="1056.0" y="341.0" width="3" height="26.0" fill="#ff0000"/>
<rect x="1061.0" y="321.0" width="1" height="22.0" fill="#ff0000"/>
<rect x="1060.0" y="324.0" width="3" height="16.0" fill="#ff0000"/>
<rect x="1065.0" y="309.0" width="1" height="24.0" fill="#ff0000"/>
<rect x="1064.0" y="315.0" width="3" height="14.0" fill="#ff0000"/>
<rect x="1069.0" y="313.0" width="1" height="15.0" fill="#00ff00"/>
<rect x="1068.0" y="315.0" width="3" height="10.0" fill="#00ff00"/>
<rect x="1073.0" y="312.0" width="1" height="16.0" fill="#ff0000"/>
<rect x="1072.0" y="318.0" width="3" height="3.0" fill="#ff0000"/>
<rect x="1077.0" y="314.0" width="1" height="29.0" fill="#00ff00"/>
<rect x="1076.0" y="317.0" width="3" height="21.0" fill="#00ff00"/>
<rect x="1081.0" y="336.0" width="1" height="21.0" fill="#00ff00"/>
<rect x="1080.0" y="337.0" width="3" height="12.0" fill="#00ff00"/>
<rect x="1085.0" y="334.0" width="1" height="19.0" fill="#ff0000"/>
<rect x="1084.0" y="342.0" width="3" height="9.0" fill="#ff0000"/>
<rect x="1089.0" y="340.0" width="1" height="15.0" fill="#00ff00"/>
<rect x="1088.0" y="342.0" width="3" height="7.0" fill="#00ff00"/>
<rect x="1093.0" y="340.0" width="1" height="14.0" fill="#ff0000"/>
<rect x="1092.0" y="344.0" width="3" height="6.0" fill="#ff0000"/>
<rect x="1097.0" y="350.0" width="1" height="14.0" fill="#00ff00"/>
<rect x="1096.0" y="353.0" width="3" height="4.0" fill="#00ff00"/>
<rect x="1101.0" y="340.0" width="1" height="22.0" fill="#ff0000"/>
<rect x="1100.0" y="344.0" width="3" height="7.0" fill="#ff0000"/>
<rect x="1105.0" y="334.0" width="1" height="25.0" fill="#00ff00"/>
<rect x="1104.0" y="344.0" width="3" height="15.0" fill="#00ff00"/>
<rect x="1109.0" y="345.0" width="1" height="27.0" fill="#ff0000"/>
<rect x="1108.0" y="346.0" width="3" height="12.0" fill="#ff0000"/>
<rect x="1113.0" y="332.0" width="1" height="17.0" fill="#ff0000"/>
<rect x="1112.0" y="342.0" width="3" height="6.0" fill="#ff0000"/>
<rect x="1117.0" y="334.0" width="1" height="13.0" fill="#00ff00"/>
<rect x="1116.0" y="340.0" width="3" height="6.0" fill="#00ff00"/>
<rect x="1121.0" y="340.0" width="1" height="19.0" fill="#00ff00"/>
<rect x="1120.0" y="346.0" width="3" height="3.0" fill="#00ff00"/>
<rect x="1125.0" y="328.0" width="1" height="25.0" fill="#ff0000"/>
<rect x="1124.0" y="339.0" width="3" height="7.0" fill="#ff0000"/>
<rect x="1129.0" y="334.0" width="1" height="30.0" fill="#00ff00"/>
<rect x="1128.0" y="337.0" width="3" height="27.0" fill="#00ff00"/>
<rect x="1133.0" y="356.0" width="1" height="13.0" fill="#ff0000"/>
<rect x="1132.0" y="358.0" width="3" height="5.0" fill="#ff0000"/>
<rect x="1137.0" y="345.0" width="1" height="13.0" fill="#ff0000"/>
<rect x="1136.0" y="348.0" width="3" height="9.0" fill="#ff0000"/>
<rect x="1141.0" y="345.0" width="1" height="6.0" fill="#ff0000"/>
<rect x="1140.0" y="346.0" width="3" height="4.0" fill="#ff0000"/>
<rect x="1145.0" y="341.0" width="1" height="20.0" fill="#00ff00"/>
<rect x="1144.0" y="346.0" width="3" height="14.0" fill="#00ff00"/>
<rect x="1149.0" y="357.0" width="1" height="30.0" fill="#00ff00"/>
<rect x="1148.0" y="359.0" width="3" height="26.0" fill="#00ff00"/>
<rect x="1153.0" y="373.0" width="1" height="22.0" fill="#00ff00"/>
<rect x="1152.0" y="383.0" width="3" height="11.0" fill="#00ff00"/>
<rect x="1157.0" y="391.0" width="1" height="15.0" fill="#00ff00"/>
<rect x="1156.0" y="393.0" width="3" height="13.0" fill="#00ff00"/>
<rect x="1161.0" y="385.0" width="1" height="24.0" fill="#ff0000"/>
<rect x="1160.0" y="388.0" width="3" height="16.0" fill="#ff0000"/>
<rect x="1165.0" y="386.0" width="1" height="5.0" fill="#00ff00"/>
<rect x="1164.0" y="387.0" width="3" height="3.0" fill="#00ff00"/>
<rect x="1169.0" y="387.0" width="1" height="16.0" fill="#00ff00"/>
<rect x="1168.0" y="390.0" width="3" height="11.0" fill="#00ff00"/>
<rect x="1173.0" y="394.0" width="1" height="20.0" fill="#00ff00"/>
<rect x="1172.0" y="399.0" width="3" height="7.0" fill="#00ff00"/>
<rect x="1177.0" y="402.0" width="1" height="10.0" fill="#ff0000"/>
<rect x="1176.0" y="404.0" width="3" height="2.0" fill="#ff0000"/>
<rect x="1181.0" y="380.0" width="1" height="34.0" fill="#ff0000"/>
<rect x="1180.0" y="383.0" width="3" height="20.0" fill="#ff0000"/>
<rect x="1185.0" y="381.0" width="1" height="22.0" fill="#00ff00"/>
<rect x="1184.0" y="383.0" width="3" height="17.0" fill="#00ff00"/>
<rect x="1189.0" y="386.0" width="1" height="16.0" fill="#00ff00"/>
<rect x="1188.0" y="397.0" width="3" height="3.0" fill="#00ff00"/>
<rect x="1193.0" y="381.0" width="1" height="17.0" fill="#ff0000"/>
<rect x="1192.0" y="392.0" width="3" height="5.0" fill="#ff0000"/>
<rect x="1197.0" y="391.0" width="1" height="17.0" fill="#00ff00"/>
<rect x="1196.0" y="393.0" width="3" height="13.0" fill="#00ff00"/>
<rect x="1201.0" y="403.0" width="1" height="39.0" fill="#00ff00"/>
<rect x="1200.0" y="404.0" width="3" height="32.0" fill="#00ff00"/>
<rect x="1205.0" y="416.0" width="1" height="23.0" fill="#ff0000"/>
<rect x="1204.0" y="426.0" width="3" height="10.0" fill="#ff0000"/>
<rect x="1209.0" y="397.0" width="1" height="33.0" fill="#ff0000"/>
<rect x="1208.0" y="398.0" width="3" height="29.0" fill="#ff0000"/>
<rect x="1213.0" y="396.0" width="1" height="8.0" fill="#00ff00"/>
<rect x="1212.0" y="398.0" width="3" height="5.0" fill="#00ff00"/>
<rect x="1217.0" y="398.0" width="1" height="13.0" fill="#00ff00"/>
<rect x="1216.0" y="400.0" width="3" height="9.0" fill="#00ff00"/>
<rect x="1221.0" y="407.0" width="1" height="25.0" fill="#00ff00"/>
<rect x="1220.0" y="408.0" width="3" height="17.0" fill="#00ff00"/>
<rect x="1225.0" y="405.0" width="1" height="38.0" fill="#00ff00"/>
<rect x="1224.0" y="411.0" width="3" height="25.0" fill="#00ff00"/>
<rect x="1229.0" y="433.0" width="1" height="20.0" fill="#00ff00"/>
<rect x="1228.0" y="436.0" width="3" height="12.0" fill="#00ff00"/>
<rect x="1233.0" y="431.0" width="1" height="18.0" fill="#ff0000"/>
<rect x="1232.0" y="437.0" width="3" height="11.0" fill="#ff0000"/>
<rect x="1237.0" y="434.0" width="1" height="5.0" fill="#ff0000"/>
<rect x="1236.0" y="435.0" width="3" height="3.0" fill="#ff0000"/>
<rect x="1241.0" y="433.0" width="1" height="19.0" fill="#00ff00"/>
<rect x="1240.0" y="434.0" width="3" height="15.0" fill="#00ff00"/>
<rect x="1245.0" y="447.0" width="1" height="16.0" fill="#00ff00"/>
<rect x="1244.0" y="449.0" width="3" height="7.0" fill="#00ff00"/>
<rect x="1249.0" y="452.0" width="1" height="16.0" fill="#00ff00"/>
<rect x="1248.0" y="454.0" width="3" height="4.0" fill="#00ff00"/>
<rect x="1253.0" y="438.0" width="1" height="20.0" fill="#ff0000"/>
<rect x="1252.0" y="455.0" width="3" height="3.0" fill="#ff0000"/>
<rect x="1257.0" y="441.0" width="1" height="20.0" fill="#ff0000"/>
<rect x="1256.0" y="450.0" width="3" height="6.0" fill="#ff0000"/>
<rect x="1261.0" y="446.0" width="1" height="8.0" fill="#00ff00"/>
<rect x="1260.0" y="449.0" width="3" height="5.0" fill="#00ff00"/>
<rect x="1265.0" y="443.0" width="1" height="25.0" fill="#ff0000"/>
<rect x="1264.0" y="444.0" width="3" height="14.0" fill="#ff0000"/>
<rect x="1269.0" y="439.0" width="1" height="8.0" fill="#ff0000"/>
<rect x="1268.0" y="443.0" width="3" height="2.0" fill="#ff0000"/>
<polyline points="5.5,446.55 9.5,444.55 13.5,442.59 17.5,440.94 21.5,439.28 25.5,437.49 29.5,436.11 33.5,435.12 37.5,433.80 41.5,432.44 45.5,431.03 49.5,429.85 53.5,429.31 57.5,429.73 61.5,430.36 65.5,431.31 69.5,432.32 73.5,433.30 77.5,433.25 81.5,433.19 85.5,433.12 89.5,433.04 93.5,433.03 97.5,433.09 101.5,433.15 105.5,433.25 109.5,433.49 113.5,433.74 117.5,433.98 121.5,433.13 125.5,433.63 129.5,434.27 133.5,434.77 137.5,435.17 141.5,435.53 145.5,435.40 149.5,435.17 153.5,434.83 157.5,434.83 161.5,435.00 165.5,435.00 169.5,434.43 173.5,434.10 177.5,434.00 181.5,433.90 185.5,433.10 189.5,432.90 193.5,433.03 197.5,433.63 201.5,434.97 205.5,436.40 209.5,437.70 213.5,439.17 217.5,440.97 221.5,442.70 225.5,444.60 229.5,446.57 233.5,448.40 237.5,449.93 241.5,450.80 245.5,451.87 249.5,452.63 253.5,453.50 257.5,454.40 261.5,455.03 265.5,456.27 269.5,457.67 273.5,458.73 277.5,459.57 281.5,460.40 285.5,461.33 289.5,461.93 293.5,462.10 297.5,461.70 301.5,461.27 305.5,461.47 309.5,461.17 313.5,460.17 317.5,458.97 321.5,457.47 325.5,455.90 329.5,453.93 333.5,452.07 337.5,450.33 341.5,448.33 345.5,446.37 349.5,444.40 353.5,442.30 357.5,440.50 361.5,440.10 365.5,439.77 369.5,438.87 373.5,437.90 377.5,437.20 381.5,436.53 385.5,436.20 389.5,436.07 393.5,436.20 397.5,436.63 401.5,437.23 405.5,437.90 409.5,439.10 413.5,440.20 417.5,440.70 421.5,441.27 425.5,441.60 429.5,442.33 433.5,443.53 437.5,444.93 441.5,446.80 445.5,448.90 449.5,451.23 453.5,454.17 457.5,456.83 461.5,459.67 465.5,462.27 469.5,464.87 473.5,467.83 477.5,470.20 481.5,471.97 485.5,472.73 489.5,474.70 493.5,476.47 497.5,478.03 501.5,479.60 505.5,481.13 509.5,482.37 513.5,483.63 517.5,484.70 521.5,485.50 525.5,486.30 529.5,486.23 533.5,486.10 537.5,486.43 541.5,486.67 545.5,486.63 549.5,486.33 553.5,485.93 557.5,484.97 561.5,483.67 565.5,482.13 569.5,480.20 573.5,477.37 577.5,474.57 581.5,471.70 585.5,468.90 589.5,466.07 593.5,462.90 597.5,460.43 601.5,458.33 605.5,456.93 609.5,455.00 613.5,453.30 617.5,451.63 621.5,449.93 625.5,448.27 629.5,446.70 633.5,445.27 637.5,443.97 641.5,442.07 645.5,440.13 649.5,438.50 653.5,436.60 657.5,433.80 661.5,431.50 665.5,429.63 669.5,428.33 673.5,426.80 677.5,425.20 681.5,423.43 685.5,421.83 689.5,419.53 693.5,415.03 697.5,410.93 701.5,405.70 705.5,399.40 709.5,393.77 713.5,387.83 717.5,379.60 721.5,368.10 725.5,357.10 729.5,347.10 733.5,336.33 737.5,324.50 741.5,313.40 745.5,303.40 749.5,295.97 753.5,288.17 757.5,281.50 761.5,273.27 765.5,265.63 769.5,257.23 773.5,250.37 777.5,244.03 781.5,237.10 785.5,230.40 789.5,224.53 793.5,218.70 797.5,213.47 801.5,208.57 805.5,203.60 809.5,199.70 813.5,198.57 817.5,195.30 821.5,192.83 825.5,192.70 829.5,191.90 833.5,191.07 837.5,190.97 841.5,194.63 845.5,198.53 849.5,200.93 853.5,203.87 857.5,208.40 861.5,212.80 865.5,216.43 869.5,217.63 873.5,217.40 877.5,216.20 881.5,217.10 885.5,218.03 889.5,218.77 893.5,220.07 897.5,222.13 901.5,224.17 905.5,225.03 909.5,224.67 913.5,223.97 917.5,223.00 921.5,221.83 925.5,220.43 929.5,220.30 933.5,220.53 937.5,222.30 941.5,224.03 945.5,223.90 949.5,224.03 953.5,224.93 957.5,228.43 961.5,231.57 965.5,234.00 969.5,236.63 973.5,239.50 977.5,243.50 981.5,247.83 985.5,251.87 989.5,255.43 993.5,261.57 997.5,267.37 1001.5,273.63 1005.5,278.93 1009.5,285.80 1013.5,289.53 1017.5,292.43 1021.5,295.33 1025.5,299.03 1029.5,303.10 1033.5,307.70 1037.5,312.20 1041.5,316.63 1045.5,321.23 1049.5,325.10 1053.5,328.43 1057.5,331.27 1061.5,333.90 1065.5,336.87 1069.5,339.93 1073.5,342.50 1077.5,344.40 1081.5,346.33 1085.5,347.87 1089.5,350.03 1093.5,351.87 1097.5,352.40 1101.5,351.70 1105.5,351.27 1109.5,350.67 1113.5,349.13 1117.5,347.80 1121.5,346.10 1125.5,344.53 1129.5,343.37 1133.5,343.57 1137.5,343.70 1141.5,344.03 1145.5,344.83 1149.5,345.97 1153.5,347.63 1157.5,349.70 1161.5,351.30 1165.5,352.97 1169.5,354.43 1173.5,355.77 1177.5,357.87 1181.5,359.83 1185.5,362.67 1189.5,365.17 1193.5,367.63 1197.5,369.90 1201.5,372.80 1205.5,375.60 1209.5,377.23 1213.5,379.20 1217.5,380.93 1221.5,383.63 1225.5,386.20 1229.5,389.60 1233.5,392.77 1237.5,395.73 1241.5,399.07 1245.5,402.97 1249.5,406.10 1253.5,409.33 1257.5,412.73 1261.5,416.33 1265.5,419.13 1269.5,421.07" fill="none" stroke="#0000c8" stroke-width="1"/>
<polyline points="5.5,429.95 9.5,429.24 13.5,428.42 17.5,427.49 21.5,425.82 25.5,424.35 29.5,424.05 33.5,423.74 37.5,423.43 41.5,423.12 45.5,422.70 49.5,422.22 53.5,424.71 57.5,426.29 61.5,429.07 65.5,432.50 69.5,434.86 73.5,436.64 77.5,437.93 81.5,438.43 85.5,438.79 89.5,439.86 93.5,441.29 97.5,441.93 101.5,443.29 105.5,442.86 109.5,442.07 113.5,440.07 117.5,438.64 121.5,436.00 125.5,434.29 129.5,433.29 133.5,432.64 137.5,433.14 141.5,434.07 145.5,432.64 149.5,431.14 153.5,430.29 157.5,429.14 161.5,428.50 165.5,427.43 169.5,426.64 173.5,426.14 177.5,428.14 181.5,429.64 185.5,430.00 189.5,430.86 193.5,432.07 197.5,433.86 201.5,437.50 205.5,441.43 209.5,446.00 213.5,450.57 217.5,454.71 221.5,459.79 225.5,464.64 229.5,468.79 233.5,470.93 237.5,473.00 241.5,473.93 245.5,474.93 249.5,475.29 253.5,475.21 257.5,474.79 261.5,474.00 265.5,472.43 269.5,470.79 273.5,468.36 277.5,465.29 281.5,462.36 285.5,459.07 289.5,455.64 293.5,452.21 297.5,451.50 301.5,449.79 305.5,448.93 309.5,447.29 313.5,444.43 317.5,442.29 321.5,440.07 325.5,437.64 329.5,435.71 333.5,434.50 337.5,433.14 341.5,431.93 345.5,431.29 349.5,430.86 353.5,429.36 357.5,428.50 361.5,428.14 365.5,429.07 369.5,429.64 373.5,430.07 377.5,431.36 381.5,432.50 385.5,434.43 389.5,436.50 393.5,438.07 397.5,440.21 401.5,442.79 405.5,445.14 409.5,448.79 413.5,451.57 417.5,452.79 421.5,453.00 425.5,454.79 429.5,456.79 433.5,458.00 437.5,460.29 441.5,462.79 445.5,465.14 449.5,467.93 453.5,472.07 457.5,475.14 461.5,478.57 465.5,480.93 469.5,483.71 473.5,487.50 477.5,490.50 481.5,493.21 485.5,494.21 489.5,496.43 493.5,497.64 497.5,498.29 501.5,498.29 505.5,498.50 509.5,496.93 513.5,495.50 517.5,493.86 521.5,492.57 525.5,491.07 529.5,488.21 533.5,485.64 537.5,483.79 541.5,482.86 545.5,480.36 549.5,477.93 553.5,474.93 557.5,471.79 561.5,468.21 565.5,464.64 569.5,460.57 573.5,456.36 577.5,451.71 581.5,447.29 585.5,443.79 589.5,440.79 593.5,437.07 597.5,434.29 601.5,432.57 605.5,431.21 609.5,430.14 613.5,429.79 617.5,429.64 621.5,429.29 625.5,430.07 629.5,431.21 633.5,432.71 637.5,434.43 641.5,435.07 645.5,435.50 649.5,435.93 653.5,434.57 657.5,431.21 661.5,428.36 665.5,426.00 669.5,424.43 673.5,421.71 677.5,418.79 681.5,415.00 685.5,411.36 689.5,405.43 693.5,394.36 697.5,385.00 701.5,373.50 705.5,360.00 709.5,349.00 713.5,338.57 717.5,323.07 721.5,300.71 725.5,278.57 729.5,259.36 733.5,239.36 737.5,217.64 741.5,196.93 745.5,181.21 749.5,176.07 753.5,169.64 757.5,168.29 761.5,164.79 765.5,160.93 769.5,156.07 773.5,157.64 777.5,165.36 781.5,171.21 785.5,175.93 789.5,184.86 793.5,195.00 797.5,204.64 801.5,211.79 805.5,213.43 809.5,215.86 813.5,216.64 817.5,217.93 821.5,217.50 825.5,221.71 829.5,223.71 833.5,225.07 837.5,224.21 841.5,224.07 845.5,222.86 849.5,221.29 853.5,218.79 857.5,217.29 861.5,216.64 865.5,217.07 869.5,216.93 873.5,217.00 877.5,218.36 881.5,217.07 885.5,216.93 889.5,215.43 893.5,220.00 897.5,224.29 901.5,226.14 905.5,227.57 909.5,229.43 913.5,228.36 917.5,226.50 921.5,223.36 925.5,219.43 929.5,222.07 933.5,225.93 937.5,229.07 941.5,230.36 945.5,232.71 949.5,232.21 953.5,231.07 957.5,233.36 961.5,238.07 965.5,242.86 969.5,248.43 973.5,254.14 977.5,263.71 981.5,275.36 985.5,284.71 989.5,291.71 993.5,301.14 997.5,311.21 1001.5,323.64 1005.5,334.57 1009.5,345.86 1013.5,350.93 1017.5,354.71 1021.5,357.57 1025.5,361.29 1029.5,365.71 1033.5,365.93 1037.5,364.43 1041.5,362.14 1045.5,360.43 1049.5,358.21 1053.5,356.79 1057.5,352.57 1061.5,348.14 1065.5,342.14 1069.5,340.21 1073.5,338.36 1077.5,338.50 1081.5,339.43 1085.5,338.79 1089.5,339.14 1093.5,339.14 1097.5,340.36 1101.5,340.64 1105.5,340.79 1109.5,339.36 1113.5,339.43 1117.5,341.00 1121.5,343.43 1125.5,344.43 1129.5,347.71 1133.5,349.14 1137.5,349.07 1141.5,349.36 1145.5,350.14 1149.5,353.07 1153.5,355.71 1157.5,360.14 1161.5,362.21 1165.5,365.36 1169.5,369.57 1173.5,373.86 1177.5,377.79 1181.5,380.93 1185.5,383.50 1189.5,386.50 1193.5,389.64 1197.5,393.93 1201.5,399.36 1205.5,402.29 1209.5,402.57 1213.5,402.36 1217.5,403.86 1221.5,406.36 1225.5,408.86 1229.5,411.86 1233.5,414.21 1237.5,417.93 1241.5,421.43 1245.5,425.43 1249.5,430.14 1253.5,433.64 1257.5,434.64 1261.5,436.64 1265.5,439.93 1269.5,442.79" fill="none" stroke="#ff0000" stroke-width="1"/>
<polyline points="5.5,423.00 9.5,423.00 13.5,423.11 17.5,423.95 21.5,422.80 25.5,423.80 29.5,425.00 33.5,425.00 37.5,423.40 41.5,420.80 45.5,419.00 49.5,421.80 53.5,425.00 57.5,433.40 61.5,441.40 65.5,451.60 69.5,455.60 73.5,457.60 77.5,455.40 81.5,450.00 85.5,442.60 89.5,439.00 93.5,436.40 97.5,432.00 101.5,432.60 105.5,433.20 109.5,431.20 113.5,430.00 117.5,432.20 121.5,431.20 125.5,431.60 129.5,433.00 133.5,434.60 137.5,434.60 141.5,437.20 145.5,434.40 149.5,430.40 153.5,425.40 157.5,421.40 161.5,417.60 165.5,416.60 169.5,417.40 173.5,420.60 177.5,428.40 181.5,434.80 185.5,440.20 189.5,446.40 193.5,451.20 197.5,453.20 201.5,456.40 205.5,462.40 209.5,467.80 213.5,473.20 217.5,476.00 221.5,479.00 225.5,482.40 229.5,484.40 233.5,485.40 237.5,486.00 241.5,479.80 245.5,475.20 249.5,469.40 253.5,465.20 257.5,461.40 261.5,462.60 265.5,460.80 269.5,460.60 273.5,456.80 277.5,452.40 281.5,449.80 285.5,447.00 289.5,443.00 293.5,440.80 297.5,441.20 301.5,440.00 305.5,441.00 309.5,441.80 313.5,439.60 317.5,436.80 321.5,433.60 325.5,429.00 329.5,424.40 333.5,424.60 337.5,424.20 341.5,424.20 345.5,425.20 349.5,427.20 353.5,426.80 357.5,427.00 361.5,430.40 365.5,435.60 369.5,436.20 373.5,438.80 377.5,441.60 381.5,441.20 385.5,439.40 389.5,443.80 393.5,446.60 397.5,449.00 401.5,454.00 405.5,457.20 409.5,461.20 413.5,464.80 417.5,465.60 421.5,464.20 425.5,463.20 429.5,461.20 433.5,459.60 437.5,462.20 441.5,466.80 445.5,472.80 449.5,477.80 453.5,488.40 457.5,495.60 461.5,501.40 465.5,505.40 469.5,509.00 473.5,508.80 477.5,507.20 481.5,504.20 485.5,498.40 489.5,495.20 493.5,490.60 497.5,488.60 501.5,487.00 505.5,489.80 509.5,489.80 513.5,489.60 517.5,489.00 521.5,489.40 525.5,488.20 529.5,484.40 533.5,479.60 537.5,476.00 541.5,471.20 545.5,465.20 549.5,461.80 553.5,458.60 557.5,453.40 561.5,448.80 565.5,445.80 569.5,441.00 573.5,437.00 577.5,433.20 581.5,429.60 585.5,426.00 589.5,424.20 593.5,422.00 597.5,422.40 601.5,424.00 605.5,426.60 609.5,428.80 613.5,433.00 617.5,435.80 621.5,436.60 625.5,437.80 629.5,440.00 633.5,441.40 637.5,443.00 641.5,442.20 645.5,439.40 649.5,435.20 653.5,427.60 657.5,415.00 661.5,407.80 665.5,402.20 669.5,400.80 673.5,399.80 677.5,401.80 681.5,400.40 685.5,399.00 689.5,388.20 693.5,366.40 697.5,347.60 701.5,323.20 705.5,291.40 709.5,269.60 713.5,258.80 717.5,234.40 721.5,198.40 725.5,172.80 729.5,148.80 733.5,124.00 737.5,105.20 741.5,108.40 745.5,115.60 749.5,133.20 753.5,152.40 757.5,185.00 761.5,201.40 765.5,212.80 769.5,202.80 773.5,200.80 777.5,190.20 781.5,190.80 785.5,190.80 789.5,204.60 793.5,209.80 797.5,218.40 801.5,229.20 805.5,238.20 809.5,239.20 813.5,245.60 817.5,238.60 821.5,228.80 825.5,226.00 829.5,222.80 833.5,213.80 837.5,208.40 841.5,209.20 845.5,207.80 849.5,203.00 853.5,200.80 857.5,209.80 861.5,217.40 865.5,223.00 869.5,233.40 873.5,233.60 877.5,231.80 881.5,227.20 885.5,222.40 889.5,209.60 893.5,216.80 897.5,225.80 901.5,233.20 905.5,232.80 909.5,240.00 913.5,233.20 917.5,223.60 921.5,215.20 925.5,210.60 929.5,213.00 933.5,225.00 937.5,234.40 941.5,242.00 945.5,246.80 949.5,245.20 953.5,240.20 957.5,245.20 961.5,254.40 965.5,268.40 969.5,278.60 973.5,288.20 977.5,300.20 981.5,315.00 985.5,330.20 989.5,346.20 993.5,366.00 997.5,375.00 1001.5,382.00 1005.5,384.80 1009.5,391.80 1013.5,384.60 1017.5,376.20 1021.5,363.40 1025.5,353.40 1029.5,343.80 1033.5,342.20 1037.5,342.20 1041.5,343.00 1045.5,343.80 1049.5,345.00 1053.5,349.40 1057.5,348.80 1061.5,345.60 1065.5,340.60 1069.5,334.20 1073.5,324.60 1077.5,324.00 1081.5,329.00 1085.5,334.40 1089.5,339.20 1093.5,344.40 1097.5,348.20 1101.5,347.20 1105.5,350.60 1109.5,350.00 1113.5,349.60 1117.5,347.40 1121.5,348.40 1125.5,344.40 1129.5,348.00 1133.5,351.20 1137.5,351.60 1141.5,351.00 1145.5,355.20 1149.5,359.40 1153.5,366.60 1157.5,378.20 1161.5,386.60 1165.5,392.60 1169.5,395.80 1173.5,398.20 1177.5,397.80 1181.5,396.80 1185.5,398.80 1189.5,398.60 1193.5,395.80 1197.5,396.20 1201.5,406.80 1205.5,412.00 1209.5,411.60 1213.5,413.80 1217.5,414.40 1221.5,412.20 1225.5,414.20 1229.5,424.20 1233.5,431.00 1237.5,436.20 1241.5,441.00 1245.5,445.00 1249.5,447.00 1253.5,450.60 1257.5,453.60 1261.5,454.60 1265.5,452.20 1269.5,449.20" fill="none" stroke="#ffa500" stroke-width="1"/>
<rect x="5" y="350" width="1592" height="2" fill="#ff0000"/>
<rect x="5" y="389" width="1592" height="2" fill="#ff0000"/>
<rect x="5" y="421" width="1592" height="2" fill="#00ff00"/>
<rect x="5" y="465" width="1592" height="2" fill="#0000ff"/>
<rect x="5" y="503" width="1592" height="2" fill="#0000ff"/>
</g>
<rect x="4" y="501" width="6" height="6" fill="#0000ff"/><rect x="6" y="503" width="2" height="2" fill="#fff"/>
<rect x="1591" y="501" width="6" height="6" fill="#0000ff"/><rect x="1593" y="503" width="2" height="2" fill="#fff"/>
<path d="M1272.5,26 L1282.5,26 L1277.5,31.5 Z" fill="#c0c0c0"/>
<path d="M7.5,32 L15,32 L11.25,36 Z" fill="#000"/>
<text x="20" y="37" font-size="10" fill="#000" stroke="#000" stroke-width="0.3" textLength="66" lengthAdjust="spacingAndGlyphs" >USDCAD,Daily</text>
<text x="92.5" y="37" font-size="10" fill="#000" stroke="#000" stroke-width="0.3" textLength="140" lengthAdjust="spacingAndGlyphs" >1.32190 1.32375 1.32135 1.32221</text>
<rect x="1598" y="32" width="2" height="1" fill="#000"/>
<text x="1603.5" y="36" font-size="10" fill="#000" stroke="#000" stroke-width="0.3" textLength="32.3" lengthAdjust="spacingAndGlyphs" >1.47340</text>
<rect x="1598" y="65" width="2" height="1" fill="#000"/>
<text x="1603.5" y="69" font-size="10" fill="#000" stroke="#000" stroke-width="0.3" textLength="32.3" lengthAdjust="spacingAndGlyphs" >1.46115</text>
<rect x="1598" y="98" width="2" height="1" fill="#000"/>
<text x="1603.5" y="102" font-size="10" fill="#000" stroke="#000" stroke-width="0.3" textLength="32.3" lengthAdjust="spacingAndGlyphs" >1.44890</text>
<rect x="1598" y="131" width="2" height="1" fill="#000"/>
<text x="1603.5" y="135" font-size="10" fill="#000" stroke="#000" stroke-width="0.3" textLength="32.3" lengthAdjust="spacingAndGlyphs" >1.43700</text>
<rect x="1598" y="164" width="2" height="1" fill="#000"/>
<text x="1603.5" y="168" font-size="10" fill="#000" stroke="#000" stroke-width="0.3" textLength="32.3" lengthAdjust="spacingAndGlyphs" >1.42475</text>
<rect x="1598" y="197" width="2" height="1" fill="#000"/>
<text x="1603.5" y="201" font-size="10" fill="#000" stroke="#000" stroke-width="0.3" textLength="32.3" lengthAdjust="spacingAndGlyphs" >1.41285</text>
<rect x="1598" y="230" width="2" height="1" fill="#000"/>
<text x="1603.5" y="234" font-size="10" fill="#000" stroke="#000" stroke-width="0.3" textLength="32.3" lengthAdjust="spacingAndGlyphs" >1.40060</text>
<rect x="1598" y="263" width="2" height="1" fill="#000"/>
<text x="1603.5" y="267" font-size="10" fill="#000" stroke="#000" stroke-width="0.3" textLength="32.3" lengthAdjust="spacingAndGlyphs" >1.38835</text>
<rect x="1598" y="296" width="2" height="1" fill="#000"/>
<text x="1603.5" y="300" font-size="10" fill="#000" stroke="#000" stroke-width="0.3" textLength="32.3" lengthAdjust="spacingAndGlyphs" >1.37645</text>
<rect x="1598" y="329" width="2" height="1" fill="#000"/>
<text x="1603.5" y="333" font-size="10" fill="#000" stroke="#000" stroke-width="0.3" textLength="32.3" lengthAdjust="spacingAndGlyphs" >1.36420</text>
<rect x="1598" y="362" width="2" height="1" fill="#000"/>
<text x="1603.5" y="366" font-size="10" fill="#000" stroke="#000" stroke-width="0.3" textLength="32.3" lengthAdjust="spacingAndGlyphs" >1.35230</text>
<rect x="1598" y="395" width="2" height="1" fill="#000"/>
<text x="1603.5" y="399" font-size="10" fill="#000" stroke="#000" stroke-width="0.3" textLength="32.3" lengthAdjust="spacingAndGlyphs" >1.34005</text>
<rect x="1598" y="428" width="2" height="1" fill="#000"/>
<text x="1603.5" y="432" font-size="10" fill="#000" stroke="#000" stroke-width="0.3" textLength="32.3" lengthAdjust="spacingAndGlyphs" >1.32780</text>
<rect x="1598" y="461" width="2" height="1" fill="#000"/>
<text x="1603.5" y="465" font-size="10" fill="#000" stroke="#000" stroke-width="0.3" textLength="32.3" lengthAdjust="spacingAndGlyphs" >1.31590</text>
<rect x="1598" y="494" width="2" height="1" fill="#000"/>
<text x="1603.5" y="498" font-size="10" fill="#000" stroke="#000" stroke-width="0.3" textLength="32.3" lengthAdjust="spacingAndGlyphs" >1.30365</text>
<rect x="1598" y="527" width="2" height="1" fill="#000"/>
<text x="1603.5" y="531" font-size="10" fill="#000" stroke="#000" stroke-width="0.3" textLength="32.3" lengthAdjust="spacingAndGlyphs" >1.29175</text>
<rect x="1599" y="345" width="42" height="11" fill="#ff0000"/>
<text x="1603.5" y="354" font-size="10" fill="#fff" stroke="#fff" stroke-width="0.3" textLength="32.3" lengthAdjust="spacingAndGlyphs" >1.35606</text>
<rect x="1599" y="384" width="42" height="11" fill="#ff0000"/>
<text x="1603.5" y="393" font-size="10" fill="#fff" stroke="#fff" stroke-width="0.3" textLength="32.3" lengthAdjust="spacingAndGlyphs" >1.34206</text>
<rect x="1599" y="416" width="42" height="11" fill="#00ff00"/>
<text x="1603.5" y="425" font-size="10" fill="#fff" stroke="#fff" stroke-width="0.3" textLength="32.3" lengthAdjust="spacingAndGlyphs" >1.33011</text>
<rect x="1599" y="439" width="42" height="11" fill="#000000"/>
<text x="1603.5" y="448" font-size="10" fill="#fff" stroke="#fff" stroke-width="0.3" textLength="32.3" lengthAdjust="spacingAndGlyphs" >1.32221</text>
<rect x="1599" y="460" width="42" height="11" fill="#0000ff"/>
<text x="1603.5" y="469" font-size="10" fill="#fff" stroke="#fff" stroke-width="0.3" textLength="32.3" lengthAdjust="spacingAndGlyphs" >1.31405</text>
<rect x="1599" y="498" width="42" height="11" fill="#0000ff"/>
<text x="1603.5" y="507" font-size="10" fill="#fff" stroke="#fff" stroke-width="0.3" textLength="32.3" lengthAdjust="spacingAndGlyphs" >1.30022</text>
<text x="9.3" y="545" font-size="10" fill="#000" stroke="#000" stroke-width="0.3" textLength="67.5" lengthAdjust="spacingAndGlyphs" >RSI(14) 40.6128</text>
<rect x="5" y="560" width="1592" height="1" fill="none"/>
<line x1="6" y1="560.5" x2="1597" y2="560.5" stroke="#c0c0c0" stroke-dasharray="3,3"/>
<line x1="6" y1="596.5" x2="1597" y2="596.5" stroke="#c0c0c0" stroke-dasharray="3,3"/>
<g clip-path="url(#cr)">
<polyline points="5.5,570.39 9.5,570.08 13.5,573.21 17.5,573.65 21.5,575.94 25.5,573.18 29.5,573.18 33.5,573.71 37.5,570.71 41.5,570.71 45.5,569.38 49.5,581.64 53.5,582.93 57.5,589.98 61.5,588.88 65.5,591.54 69.5,587.08 73.5,583.46 77.5,582.45 81.5,574.37 85.5,573.58 89.5,578.69 93.5,577.79 97.5,573.15 101.5,576.50 105.5,575.63 109.5,574.73 113.5,575.82 117.5,579.03 121.5,574.54 125.5,577.25 129.5,578.84 133.5,580.45 137.5,579.26 141.5,581.53 145.5,570.27 149.5,569.05 153.5,568.21 157.5,570.21 161.5,573.46 165.5,569.63 169.5,573.47 173.5,579.14 177.5,589.82 181.5,588.71 185.5,582.03 189.5,585.79 193.5,586.86 197.5,590.87 201.5,592.10 205.5,592.41 209.5,594.60 213.5,595.51 217.5,594.82 221.5,596.44 225.5,597.40 229.5,597.40 233.5,595.69 237.5,593.11 241.5,575.11 245.5,580.40 249.5,577.56 253.5,580.36 257.5,579.85 261.5,577.77 265.5,575.73 269.5,576.88 273.5,571.00 277.5,569.26 281.5,572.43 285.5,570.11 289.5,568.32 293.5,566.99 297.5,573.13 301.5,571.63 305.5,575.51 309.5,572.85 313.5,565.08 317.5,568.92 321.5,566.93 325.5,566.53 329.5,564.53 333.5,568.77 337.5,570.82 341.5,569.36 345.5,572.21 349.5,572.21 353.5,568.94 357.5,573.45 361.5,581.55 365.5,587.77 369.5,575.75 373.5,577.64 377.5,580.83 381.5,579.35 385.5,582.12 389.5,585.54 393.5,583.31 397.5,585.49 401.5,589.46 405.5,587.62 409.5,592.05 413.5,588.38 417.5,583.34 421.5,582.79 425.5,582.22 429.5,585.52 433.5,583.07 437.5,588.38 441.5,591.75 445.5,593.80 449.5,594.47 453.5,601.04 457.5,597.76 461.5,598.28 465.5,596.21 469.5,596.21 473.5,597.79 477.5,589.37 481.5,586.26 485.5,577.33 489.5,582.95 493.5,581.97 497.5,582.40 501.5,580.78 505.5,583.17 509.5,582.57 513.5,580.75 517.5,580.13 521.5,581.32 525.5,579.28 529.5,571.18 533.5,567.48 537.5,570.93 541.5,569.03 545.5,565.13 549.5,564.72 553.5,561.94 557.5,560.11 561.5,559.75 565.5,559.37 569.5,555.86 573.5,554.93 577.5,553.71 581.5,553.71 585.5,553.38 589.5,553.04 593.5,551.38 597.5,561.45 601.5,567.10 605.5,570.56 609.5,568.80 613.5,573.07 617.5,574.71 621.5,571.99 625.5,576.92 629.5,578.47 633.5,579.26 637.5,581.64 641.5,570.22 645.5,568.01 649.5,565.42 653.5,558.85 657.5,552.90 661.5,560.74 665.5,563.36 669.5,572.51 673.5,567.58 677.5,565.41 681.5,563.63 685.5,565.91 689.5,558.02 693.5,548.94 697.5,552.20 701.5,549.03 705.5,546.68 709.5,553.16 713.5,551.91 717.5,547.71 721.5,543.80 725.5,548.32 729.5,554.32 733.5,553.18 737.5,551.41 741.5,555.31 745.5,562.97 749.5,574.87 753.5,573.79 757.5,578.47 761.5,571.80 765.5,573.56 769.5,570.80 773.5,574.66 777.5,574.01 781.5,573.23 785.5,574.81 789.5,580.24 793.5,578.52 797.5,579.97 801.5,580.52 805.5,580.81 809.5,580.96 813.5,583.14 817.5,574.09 821.5,572.72 825.5,578.72 829.5,578.57 833.5,576.19 837.5,570.80 841.5,574.46 845.5,578.61 849.5,575.91 853.5,575.61 857.5,578.68 861.5,580.96 865.5,583.47 869.5,584.40 873.5,575.13 877.5,576.51 881.5,576.51 885.5,579.26 889.5,573.50 893.5,581.35 897.5,583.77 901.5,582.34 905.5,578.21 909.5,578.89 913.5,575.04 917.5,575.61 921.5,575.26 925.5,574.33 929.5,581.97 933.5,586.00 937.5,583.88 941.5,581.59 945.5,577.83 949.5,579.19 953.5,580.76 957.5,587.62 961.5,589.11 965.5,589.86 969.5,586.83 973.5,587.69 977.5,595.12 981.5,597.78 985.5,598.51 989.5,596.29 993.5,598.98 997.5,598.40 1001.5,599.96 1005.5,595.77 1009.5,597.41 1013.5,585.41 1017.5,583.68 1021.5,581.95 1025.5,581.95 1029.5,584.84 1033.5,583.09 1037.5,583.09 1041.5,582.00 1045.5,582.00 1049.5,586.05 1053.5,588.02 1057.5,580.56 1061.5,576.27 1065.5,574.15 1069.5,576.89 1073.5,575.14 1077.5,580.46 1081.5,583.09 1085.5,581.08 1089.5,582.84 1093.5,581.31 1097.5,584.67 1101.5,580.60 1105.5,584.44 1109.5,580.49 1113.5,579.31 1117.5,580.47 1121.5,581.35 1125.5,578.03 1129.5,585.16 1133.5,583.13 1137.5,579.87 1141.5,579.22 1145.5,583.42 1149.5,589.59 1153.5,591.50 1157.5,593.89 1161.5,587.35 1165.5,587.81 1169.5,590.31 1173.5,591.41 1177.5,590.59 1181.5,582.70 1185.5,587.07 1189.5,587.07 1193.5,584.09 1197.5,587.80 1201.5,594.18 1205.5,590.50 1209.5,581.70 1213.5,582.90 1217.5,584.35 1221.5,587.99 1225.5,590.29 1229.5,592.63 1233.5,588.76 1237.5,588.06 1241.5,591.13 1245.5,592.57 1249.5,592.99 1253.5,591.71 1257.5,589.55 1261.5,590.60 1265.5,586.19 1269.5,585.76" fill="none" stroke="#1e90ff" stroke-width="1"/>
</g>
<text x="1601.3" y="542.9" font-size="10" fill="#000" stroke="#000" stroke-width="0.3" textLength="14" lengthAdjust="spacingAndGlyphs" >100</text>
<text x="1600" y="564.1" font-size="10" fill="#000" stroke="#000" stroke-width="0.3" textLength="10" lengthAdjust="spacingAndGlyphs" >70</text>
<text x="1600" y="599.9" font-size="10" fill="#000" stroke="#000" stroke-width="0.3" textLength="10" lengthAdjust="spacingAndGlyphs" >30</text>
<text x="1601.2" y="620.8" font-size="10" fill="#000" stroke="#000" stroke-width="0.3" textLength="4.7" lengthAdjust="spacingAndGlyphs" >0</text>
<rect x="1598" y="534" width="1" height="1" fill="#000"/>
<rect x="1598" y="623" width="1" height="1" fill="#000"/>
<rect x="1598" y="628" width="1" height="1" fill="#000"/>
<rect x="1598" y="717" width="1" height="1" fill="#000"/>
<text x="9.3" y="638.7" font-size="10" fill="#000" stroke="#000" stroke-width="0.3" textLength="153.3" lengthAdjust="spacingAndGlyphs" >MACD(12,26,9) -0.006277 -0.007008</text>
<g clip-path="url(#cd)">
<rect x="5.0" y="680" width="1" height="7" fill="#c0c0c0"/>
<rect x="9.0" y="680" width="1" height="7" fill="#c0c0c0"/>
<rect x="13.0" y="680" width="1" height="7" fill="#c0c0c0"/>
<rect x="17.0" y="680" width="1" height="7" fill="#c0c0c0"/>
<rect x="21.0" y="681" width="1" height="6" fill="#c0c0c0"/>
<rect x="25.0" y="681" width="1" height="6" fill="#c0c0c0"/>
<rect x="29.0" y="681" width="1" height="6" fill="#c0c0c0"/>
<rect x="33.0" y="681" width="1" height="6" fill="#c0c0c0"/>
<rect x="37.0" y="681" width="1" height="6" fill="#c0c0c0"/>
<rect x="41.0" y="681" width="1" height="6" fill="#c0c0c0"/>
<rect x="45.0" y="681" width="1" height="6" fill="#c0c0c0"/>
<rect x="49.0" y="682" width="1" height="5" fill="#c0c0c0"/>
<rect x="53.0" y="683" width="1" height="4" fill="#c0c0c0"/>
<rect x="57.0" y="685" width="1" height="2" fill="#c0c0c0"/>
<rect x="61.0" y="686" width="1" height="1" fill="#c0c0c0"/>
<rect x="65.0" y="686" width="1" height="2" fill="#c0c0c0"/>
<rect x="69.0" y="686" width="1" height="3" fill="#c0c0c0"/>
<rect x="73.0" y="686" width="1" height="3" fill="#c0c0c0"/>
<rect x="77.0" y="686" width="1" height="3" fill="#c0c0c0"/>
<rect x="81.0" y="686" width="1" height="2" fill="#c0c0c0"/>
<rect x="85.0" y="686" width="1" height="1" fill="#c0c0c0"/>
<rect x="89.0" y="686" width="1" height="1" fill="#c0c0c0"/>
<rect x="93.0" y="686" width="1" height="1" fill="#c0c0c0"/>
<rect x="97.0" y="686" width="1" height="1" fill="#c0c0c0"/>
<rect x="101.0" y="686" width="1" height="1" fill="#c0c0c0"/>
<rect x="105.0" y="686" width="1" height="1" fill="#c0c0c0"/>
<rect x="109.0" y="685" width="1" height="2" fill="#c0c0c0"/>
<rect x="113.0" y="685" width="1" height="2" fill="#c0c0c0"/>
<rect x="117.0" y="686" width="1" height="1" fill="#c0c0c0"/>
<rect x="121.0" y="685" width="1" height="2" fill="#c0c0c0"/>
<rect x="125.0" y="685" width="1" height="2" fill="#c0c0c0"/>
<rect x="129.0" y="686" width="1" height="1" fill="#c0c0c0"/>
<rect x="133.0" y="686" width="1" height="1" fill="#c0c0c0"/>
<rect x="137.0" y="686" width="1" height="1" fill="#c0c0c0"/>
<rect x="141.0" y="686" width="1" height="1" fill="#c0c0c0"/>
<rect x="145.0" y="686" width="1" height="1" fill="#c0c0c0"/>
<rect x="149.0" y="685" width="1" height="2" fill="#c0c0c0"/>
<rect x="153.0" y="684" width="1" height="3" fill="#c0c0c0"/>
<rect x="157.0" y="684" width="1" height="3" fill="#c0c0c0"/>
<rect x="161.0" y="684" width="1" height="3" fill="#c0c0c0"/>
<rect x="165.0" y="683" width="1" height="4" fill="#c0c0c0"/>
<rect x="169.0" y="683" width="1" height="4" fill="#c0c0c0"/>
<rect x="173.0" y="684" width="1" height="3" fill="#c0c0c0"/>
<rect x="177.0" y="686" width="1" height="1" fill="#c0c0c0"/>
<rect x="181.0" y="686" width="1" height="1" fill="#c0c0c0"/>
<rect x="185.0" y="686" width="1" height="1" fill="#c0c0c0"/>
<rect x="189.0" y="686" width="1" height="2" fill="#c0c0c0"/>
<rect x="193.0" y="686" width="1" height="3" fill="#c0c0c0"/>
<rect x="197.0" y="686" width="1" height="4" fill="#c0c0c0"/>
<rect x="201.0" y="686" width="1" height="5" fill="#c0c0c0"/>
<rect x="205.0" y="686" width="1" height="6" fill="#c0c0c0"/>
<rect x="209.0" y="686" width="1" height="7" fill="#c0c0c0"/>
<rect x="213.0" y="686" width="1" height="8" fill="#c0c0c0"/>
<rect x="217.0" y="686" width="1" height="8" fill="#c0c0c0"/>
<rect x="221.0" y="686" width="1" height="9" fill="#c0c0c0"/>
<rect x="225.0" y="686" width="1" height="9" fill="#c0c0c0"/>
<rect x="229.0" y="686" width="1" height="10" fill="#c0c0c0"/>
<rect x="233.0" y="686" width="1" height="10" fill="#c0c0c0"/>
<rect x="237.0" y="686" width="1" height="9" fill="#c0c0c0"/>
<rect x="241.0" y="686" width="1" height="8" fill="#c0c0c0"/>
<rect x="245.0" y="686" width="1" height="7" fill="#c0c0c0"/>
<rect x="249.0" y="686" width="1" height="6" fill="#c0c0c0"/>
<rect x="253.0" y="686" width="1" height="5" fill="#c0c0c0"/>
<rect x="257.0" y="686" width="1" height="4" fill="#c0c0c0"/>
<rect x="261.0" y="686" width="1" height="4" fill="#c0c0c0"/>
<rect x="265.0" y="686" width="1" height="3" fill="#c0c0c0"/>
<rect x="269.0" y="686" width="1" height="2" fill="#c0c0c0"/>
<rect x="273.0" y="686" width="1" height="1" fill="#c0c0c0"/>
<rect x="277.0" y="686" width="1" height="1" fill="#c0c0c0"/>
<rect x="281.0" y="686" width="1" height="1" fill="#c0c0c0"/>
<rect x="285.0" y="685" width="1" height="2" fill="#c0c0c0"/>
<rect x="289.0" y="684" width="1" height="3" fill="#c0c0c0"/>
<rect x="293.0" y="684" width="1" height="3" fill="#c0c0c0"/>
<rect x="297.0" y="684" width="1" height="3" fill="#c0c0c0"/>
<rect x="301.0" y="683" width="1" height="4" fill="#c0c0c0"/>
<rect x="305.0" y="684" width="1" height="3" fill="#c0c0c0"/>
<rect x="309.0" y="684" width="1" height="3" fill="#c0c0c0"/>
<rect x="313.0" y="683" width="1" height="4" fill="#c0c0c0"/>
<rect x="317.0" y="682" width="1" height="5" fill="#c0c0c0"/>
<rect x="321.0" y="682" width="1" height="5" fill="#c0c0c0"/>
<rect x="325.0" y="681" width="1" height="6" fill="#c0c0c0"/>
<rect x="329.0" y="681" width="1" height="6" fill="#c0c0c0"/>
<rect x="333.0" y="681" width="1" height="6" fill="#c0c0c0"/>
<rect x="337.0" y="681" width="1" height="6" fill="#c0c0c0"/>
<rect x="341.0" y="681" width="1" height="6" fill="#c0c0c0"/>
<rect x="345.0" y="681" width="1" height="6" fill="#c0c0c0"/>
<rect x="349.0" y="682" width="1" height="5" fill="#c0c0c0"/>
<rect x="353.0" y="682" width="1" height="5" fill="#c0c0c0"/>
<rect x="357.0" y="682" width="1" height="5" fill="#c0c0c0"/>
<rect x="361.0" y="683" width="1" height="4" fill="#c0c0c0"/>
<rect x="365.0" y="685" width="1" height="2" fill="#c0c0c0"/>
<rect x="369.0" y="685" width="1" height="2" fill="#c0c0c0"/>
<rect x="373.0" y="685" width="1" height="2" fill="#c0c0c0"/>
<rect x="377.0" y="685" width="1" height="2" fill="#c0c0c0"/>
<rect x="381.0" y="686" width="1" height="1" fill="#c0c0c0"/>
<rect x="385.0" y="686" width="1" height="1" fill="#c0c0c0"/>
<rect x="389.0" y="686" width="1" height="1" fill="#c0c0c0"/>
<rect x="393.0" y="686" width="1" height="1" fill="#c0c0c0"/>
<rect x="397.0" y="686" width="1" height="2" fill="#c0c0c0"/>
<rect x="401.0" y="686" width="1" height="3" fill="#c0c0c0"/>
<rect x="405.0" y="686" width="1" height="4" fill="#c0c0c0"/>
<rect x="409.0" y="686" width="1" height="5" fill="#c0c0c0"/>
<rect x="413.0" y="686" width="1" height="5" fill="#c0c0c0"/>
<rect x="417.0" y="686" width="1" height="5" fill="#c0c0c0"/>
<rect x="421.0" y="686" width="1" height="5" fill="#c0c0c0"/>
<rect x="425.0" y="686" width="1" height="4" fill="#c0c0c0"/>
<rect x="429.0" y="686" width="1" height="4" fill="#c0c0c0"/>
<rect x="433.0" y="686" width="1" height="4" fill="#c0c0c0"/>
<rect x="437.0" y="686" width="1" height="5" fill="#c0c0c0"/>
<rect x="441.0" y="686" width="1" height="5" fill="#c0c0c0"/>
<rect x="445.0" y="686" width="1" height="6" fill="#c0c0c0"/>
<rect x="449.0" y="686" width="1" height="7" fill="#c0c0c0"/>
<rect x="453.0" y="686" width="1" height="9" fill="#c0c0c0"/>
<rect x="457.0" y="686" width="1" height="10" fill="#c0c0c0"/>
<rect x="461.0" y="686" width="1" height="10" fill="#c0c0c0"/>
<rect x="465.0" y="686" width="1" height="11" fill="#c0c0c0"/>
<rect x="469.0" y="686" width="1" height="11" fill="#c0c0c0"/>
<rect x="473.0" y="686" width="1" height="11" fill="#c0c0c0"/>
<rect x="477.0" y="686" width="1" height="11" fill="#c0c0c0"/>
<rect x="481.0" y="686" width="1" height="10" fill="#c0c0c0"/>
<rect x="485.0" y="686" width="1" height="8" fill="#c0c0c0"/>
<rect x="489.0" y="686" width="1" height="8" fill="#c0c0c0"/>
<rect x="493.0" y="686" width="1" height="7" fill="#c0c0c0"/>
<rect x="497.0" y="686" width="1" height="6" fill="#c0c0c0"/>
<rect x="501.0" y="686" width="1" height="6" fill="#c0c0c0"/>
<rect x="505.0" y="686" width="1" height="5" fill="#c0c0c0"/>
<rect x="509.0" y="686" width="1" height="5" fill="#c0c0c0"/>
<rect x="513.0" y="686" width="1" height="4" fill="#c0c0c0"/>
<rect x="517.0" y="686" width="1" height="4" fill="#c0c0c0"/>
<rect x="521.0" y="686" width="1" height="4" fill="#c0c0c0"/>
<rect x="525.0" y="686" width="1" height="3" fill="#c0c0c0"/>
<rect x="529.0" y="686" width="1" height="2" fill="#c0c0c0"/>
<rect x="533.0" y="686" width="1" height="1" fill="#c0c0c0"/>
<rect x="537.0" y="686" width="1" height="1" fill="#c0c0c0"/>
<rect x="541.0" y="685" width="1" height="2" fill="#c0c0c0"/>
<rect x="545.0" y="684" width="1" height="3" fill="#c0c0c0"/>
<rect x="549.0" y="683" width="1" height="4" fill="#c0c0c0"/>
<rect x="553.0" y="682" width="1" height="5" fill="#c0c0c0"/>
<rect x="557.0" y="681" width="1" height="6" fill="#c0c0c0"/>
<rect x="561.0" y="681" width="1" height="6" fill="#c0c0c0"/>
<rect x="565.0" y="680" width="1" height="7" fill="#c0c0c0"/>
<rect x="569.0" y="679" width="1" height="8" fill="#c0c0c0"/>
<rect x="573.0" y="678" width="1" height="9" fill="#c0c0c0"/>
<rect x="577.0" y="678" width="1" height="9" fill="#c0c0c0"/>
<rect x="581.0" y="677" width="1" height="10" fill="#c0c0c0"/>
<rect x="585.0" y="677" width="1" height="10" fill="#c0c0c0"/>
<rect x="589.0" y="677" width="1" height="10" fill="#c0c0c0"/>
<rect x="593.0" y="677" width="1" height="10" fill="#c0c0c0"/>
<rect x="597.0" y="677" width="1" height="10" fill="#c0c0c0"/>
<rect x="601.0" y="678" width="1" height="9" fill="#c0c0c0"/>
<rect x="605.0" y="678" width="1" height="9" fill="#c0c0c0"/>
<rect x="609.0" y="679" width="1" height="8" fill="#c0c0c0"/>
<rect x="613.0" y="680" width="1" height="7" fill="#c0c0c0"/>
<rect x="617.0" y="681" width="1" height="6" fill="#c0c0c0"/>
<rect x="621.0" y="681" width="1" height="6" fill="#c0c0c0"/>
<rect x="625.0" y="682" width="1" height="5" fill="#c0c0c0"/>
<rect x="629.0" y="683" width="1" height="4" fill="#c0c0c0"/>
<rect x="633.0" y="683" width="1" height="4" fill="#c0c0c0"/>
<rect x="637.0" y="684" width="1" height="3" fill="#c0c0c0"/>
<rect x="641.0" y="684" width="1" height="3" fill="#c0c0c0"/>
<rect x="645.0" y="683" width="1" height="4" fill="#c0c0c0"/>
<rect x="649.0" y="683" width="1" height="4" fill="#c0c0c0"/>
<rect x="653.0" y="682" width="1" height="5" fill="#c0c0c0"/>
<rect x="657.0" y="680" width="1" height="7" fill="#c0c0c0"/>
<rect x="661.0" y="679" width="1" height="8" fill="#c0c0c0"/>
<rect x="665.0" y="679" width="1" height="8" fill="#c0c0c0"/>
<rect x="669.0" y="679" width="1" height="8" fill="#c0c0c0"/>
<rect x="673.0" y="679" width="1" height="8" fill="#c0c0c0"/>
<rect x="677.0" y="679" width="1" height="8" fill="#c0c0c0"/>
<rect x="681.0" y="678" width="1" height="9" fill="#c0c0c0"/>
<rect x="685.0" y="678" width="1" height="9" fill="#c0c0c0"/>
<rect x="689.0" y="676" width="1" height="11" fill="#c0c0c0"/>
<rect x="693.0" y="672" width="1" height="15" fill="#c0c0c0"/>
<rect x="697.0" y="669" width="1" height="18" fill="#c0c0c0"/>
<rect x="701.0" y="665" width="1" height="22" fill="#c0c0c0"/>
<rect x="705.0" y="660" width="1" height="27" fill="#c0c0c0"/>
<rect x="709.0" y="658" width="1" height="29" fill="#c0c0c0"/>
<rect x="713.0" y="656" width="1" height="31" fill="#c0c0c0"/>
<rect x="717.0" y="652" width="1" height="35" fill="#c0c0c0"/>
<rect x="721.0" y="644" width="1" height="43" fill="#c0c0c0"/>
<rect x="725.0" y="639" width="1" height="48" fill="#c0c0c0"/>
<rect x="729.0" y="638" width="1" height="49" fill="#c0c0c0"/>
<rect x="733.0" y="636" width="1" height="51" fill="#c0c0c0"/>
<rect x="737.0" y="634" width="1" height="53" fill="#c0c0c0"/>
<rect x="741.0" y="633" width="1" height="54" fill="#c0c0c0"/>
<rect x="745.0" y="636" width="1" height="51" fill="#c0c0c0"/>
<rect x="749.0" y="642" width="1" height="45" fill="#c0c0c0"/>
<rect x="753.0" y="647" width="1" height="40" fill="#c0c0c0"/>
<rect x="757.0" y="654" width="1" height="33" fill="#c0c0c0"/>
<rect x="761.0" y="656" width="1" height="31" fill="#c0c0c0"/>
<rect x="765.0" y="658" width="1" height="29" fill="#c0c0c0"/>
<rect x="769.0" y="659" width="1" height="28" fill="#c0c0c0"/>
<rect x="773.0" y="662" width="1" height="25" fill="#c0c0c0"/>
<rect x="777.0" y="664" width="1" height="23" fill="#c0c0c0"/>
<rect x="781.0" y="666" width="1" height="21" fill="#c0c0c0"/>
<rect x="785.0" y="668" width="1" height="19" fill="#c0c0c0"/>
<rect x="789.0" y="671" width="1" height="16" fill="#c0c0c0"/>
<rect x="793.0" y="674" width="1" height="13" fill="#c0c0c0"/>
<rect x="797.0" y="677" width="1" height="10" fill="#c0c0c0"/>
<rect x="801.0" y="679" width="1" height="8" fill="#c0c0c0"/>
<rect x="805.0" y="681" width="1" height="6" fill="#c0c0c0"/>
<rect x="809.0" y="683" width="1" height="4" fill="#c0c0c0"/>
<rect x="813.0" y="685" width="1" height="2" fill="#c0c0c0"/>
<rect x="817.0" y="684" width="1" height="3" fill="#c0c0c0"/>
<rect x="821.0" y="682" width="1" height="5" fill="#c0c0c0"/>
<rect x="825.0" y="683" width="1" height="4" fill="#c0c0c0"/>
<rect x="829.0" y="684" width="1" height="3" fill="#c0c0c0"/>
<rect x="833.0" y="684" width="1" height="3" fill="#c0c0c0"/>
<rect x="837.0" y="682" width="1" height="5" fill="#c0c0c0"/>
<rect x="841.0" y="681" width="1" height="6" fill="#c0c0c0"/>
<rect x="845.0" y="682" width="1" height="5" fill="#c0c0c0"/>
<rect x="849.0" y="682" width="1" height="5" fill="#c0c0c0"/>
<rect x="853.0" y="682" width="1" height="5" fill="#c0c0c0"/>
<rect x="857.0" y="683" width="1" height="4" fill="#c0c0c0"/>
<rect x="861.0" y="684" width="1" height="3" fill="#c0c0c0"/>
<rect x="865.0" y="686" width="1" height="1" fill="#c0c0c0"/>
<rect x="869.0" y="686" width="1" height="2" fill="#c0c0c0"/>
<rect x="873.0" y="686" width="1" height="1" fill="#c0c0c0"/>
<rect x="877.0" y="686" width="1" height="1" fill="#c0c0c0"/>
<rect x="881.0" y="686" width="1" height="1" fill="#c0c0c0"/>
<rect x="885.0" y="686" width="1" height="1" fill="#c0c0c0"/>
<rect x="889.0" y="685" width="1" height="2" fill="#c0c0c0"/>
<rect x="893.0" y="686" width="1" height="1" fill="#c0c0c0"/>
<rect x="897.0" y="686" width="1" height="2" fill="#c0c0c0"/>
<rect x="901.0" y="686" width="1" height="3" fill="#c0c0c0"/>
<rect x="905.0" y="686" width="1" height="3" fill="#c0c0c0"/>
<rect x="909.0" y="686" width="1" height="2" fill="#c0c0c0"/>
<rect x="913.0" y="686" width="1" height="1" fill="#c0c0c0"/>
<rect x="917.0" y="686" width="1" height="1" fill="#c0c0c0"/>
<rect x="921.0" y="685" width="1" height="2" fill="#c0c0c0"/>
<rect x="925.0" y="685" width="1" height="2" fill="#c0c0c0"/>
<rect x="929.0" y="686" width="1" height="1" fill="#c0c0c0"/>
<rect x="933.0" y="686" width="1" height="2" fill="#c0c0c0"/>
<rect x="937.0" y="686" width="1" height="4" fill="#c0c0c0"/>
<rect x="941.0" y="686" width="1" height="4" fill="#c0c0c0"/>
<rect x="945.0" y="686" width="1" height="3" fill="#c0c0c0"/>
<rect x="949.0" y="686" width="1" height="3" fill="#c0c0c0"/>
<rect x="953.0" y="686" width="1" height="3" fill="#c0c0c0"/>
<rect x="957.0" y="686" width="1" height="5" fill="#c0c0c0"/>
<rect x="961.0" y="686" width="1" height="8" fill="#c0c0c0"/>
<rect x="965.0" y="686" width="1" height="9" fill="#c0c0c0"/>
<rect x="969.0" y="686" width="1" height="10" fill="#c0c0c0"/>
<rect x="973.0" y="686" width="1" height="11" fill="#c0c0c0"/>
<rect x="977.0" y="686" width="1" height="14" fill="#c0c0c0"/>
<rect x="981.0" y="686" width="1" height="17" fill="#c0c0c0"/>
<rect x="985.0" y="686" width="1" height="20" fill="#c0c0c0"/>
<rect x="989.0" y="686" width="1" height="22" fill="#c0c0c0"/>
<rect x="993.0" y="686" width="1" height="24" fill="#c0c0c0"/>
<rect x="997.0" y="686" width="1" height="26" fill="#c0c0c0"/>
<rect x="1001.0" y="686" width="1" height="27" fill="#c0c0c0"/>
<rect x="1005.0" y="686" width="1" height="27" fill="#c0c0c0"/>
<rect x="1009.0" y="686" width="1" height="28" fill="#c0c0c0"/>
<rect x="1013.0" y="686" width="1" height="25" fill="#c0c0c0"/>
<rect x="1017.0" y="686" width="1" height="23" fill="#c0c0c0"/>
<rect x="1021.0" y="686" width="1" height="20" fill="#c0c0c0"/>
<rect x="1025.0" y="686" width="1" height="18" fill="#c0c0c0"/>
<rect x="1029.0" y="686" width="1" height="17" fill="#c0c0c0"/>
<rect x="1033.0" y="686" width="1" height="15" fill="#c0c0c0"/>
<rect x="1037.0" y="686" width="1" height="14" fill="#c0c0c0"/>
<rect x="1041.0" y="686" width="1" height="13" fill="#c0c0c0"/>
<rect x="1045.0" y="686" width="1" height="11" fill="#c0c0c0"/>
<rect x="1049.0" y="686" width="1" height="11" fill="#c0c0c0"/>
<rect x="1053.0" y="686" width="1" height="11" fill="#c0c0c0"/>
<rect x="1057.0" y="686" width="1" height="10" fill="#c0c0c0"/>
<rect x="1061.0" y="686" width="1" height="8" fill="#c0c0c0"/>
<rect x="1065.0" y="686" width="1" height="6" fill="#c0c0c0"/>
<rect x="1069.0" y="686" width="1" height="5" fill="#c0c0c0"/>
<rect x="1073.0" y="686" width="1" height="3" fill="#c0c0c0"/>
<rect x="1077.0" y="686" width="1" height="3" fill="#c0c0c0"/>
<rect x="1081.0" y="686" width="1" height="4" fill="#c0c0c0"/>
<rect x="1085.0" y="686" width="1" height="4" fill="#c0c0c0"/>
<rect x="1089.0" y="686" width="1" height="4" fill="#c0c0c0"/>
<rect x="1093.0" y="686" width="1" height="4" fill="#c0c0c0"/>
<rect x="1097.0" y="686" width="1" height="5" fill="#c0c0c0"/>
<rect x="1101.0" y="686" width="1" height="4" fill="#c0c0c0"/>
<rect x="1105.0" y="686" width="1" height="5" fill="#c0c0c0"/>
<rect x="1109.0" y="686" width="1" height="5" fill="#c0c0c0"/>
<rect x="1113.0" y="686" width="1" height="4" fill="#c0c0c0"/>
<rect x="1117.0" y="686" width="1" height="4" fill="#c0c0c0"/>
<rect x="1121.0" y="686" width="1" height="4" fill="#c0c0c0"/>
<rect x="1125.0" y="686" width="1" height="3" fill="#c0c0c0"/>
<rect x="1129.0" y="686" width="1" height="4" fill="#c0c0c0"/>
<rect x="1133.0" y="686" width="1" height="4" fill="#c0c0c0"/>
<rect x="1137.0" y="686" width="1" height="4" fill="#c0c0c0"/>
<rect x="1141.0" y="686" width="1" height="3" fill="#c0c0c0"/>
<rect x="1145.0" y="686" width="1" height="4" fill="#c0c0c0"/>
<rect x="1149.0" y="686" width="1" height="5" fill="#c0c0c0"/>
<rect x="1153.0" y="686" width="1" height="7" fill="#c0c0c0"/>
<rect x="1157.0" y="686" width="1" height="9" fill="#c0c0c0"/>
<rect x="1161.0" y="686" width="1" height="9" fill="#c0c0c0"/>
<rect x="1165.0" y="686" width="1" height="9" fill="#c0c0c0"/>
<rect x="1169.0" y="686" width="1" height="10" fill="#c0c0c0"/>
<rect x="1173.0" y="686" width="1" height="11" fill="#c0c0c0"/>
<rect x="1177.0" y="686" width="1" height="11" fill="#c0c0c0"/>
<rect x="1181.0" y="686" width="1" height="10" fill="#c0c0c0"/>
<rect x="1185.0" y="686" width="1" height="10" fill="#c0c0c0"/>
<rect x="1189.0" y="686" width="1" height="10" fill="#c0c0c0"/>
<rect x="1193.0" y="686" width="1" height="9" fill="#c0c0c0"/>
<rect x="1197.0" y="686" width="1" height="10" fill="#c0c0c0"/>
<rect x="1201.0" y="686" width="1" height="11" fill="#c0c0c0"/>
<rect x="1205.0" y="686" width="1" height="12" fill="#c0c0c0"/>
<rect x="1209.0" y="686" width="1" height="11" fill="#c0c0c0"/>
<rect x="1213.0" y="686" width="1" height="10" fill="#c0c0c0"/>
<rect x="1217.0" y="686" width="1" height="10" fill="#c0c0c0"/>
<rect x="1221.0" y="686" width="1" height="10" fill="#c0c0c0"/>
<rect x="1225.0" y="686" width="1" height="11" fill="#c0c0c0"/>
<rect x="1229.0" y="686" width="1" height="12" fill="#c0c0c0"/>
<rect x="1233.0" y="686" width="1" height="12" fill="#c0c0c0"/>
<rect x="1237.0" y="686" width="1" height="12" fill="#c0c0c0"/>
<rect x="1241.0" y="686" width="1" height="12" fill="#c0c0c0"/>
<rect x="1245.0" y="686" width="1" height="13" fill="#c0c0c0"/>
<rect x="1249.0" y="686" width="1" height="13" fill="#c0c0c0"/>
<rect x="1253.0" y="686" width="1" height="14" fill="#c0c0c0"/>
<rect x="1257.0" y="686" width="1" height="13" fill="#c0c0c0"/>
<rect x="1261.0" y="686" width="1" height="13" fill="#c0c0c0"/>
<rect x="1265.0" y="686" width="1" height="12" fill="#c0c0c0"/>
<rect x="1269.0" y="686" width="1" height="11" fill="#c0c0c0"/>
<polyline points="5.5,680.01 9.5,679.98 13.5,679.96 17.5,679.97 21.5,680.04 25.5,680.13 29.5,680.23 33.5,680.36 37.5,680.48 41.5,680.60 45.5,680.75 49.5,681.00 53.5,681.34 57.5,681.83 61.5,682.46 65.5,683.24 69.5,684.07 73.5,684.93 77.5,685.80 81.5,686.58 85.5,687.14 89.5,687.56 93.5,687.76 97.5,687.72 101.5,687.50 105.5,687.17 109.5,686.79 113.5,686.39 117.5,686.11 121.5,685.90 125.5,685.71 129.5,685.57 133.5,685.54 137.5,685.54 141.5,685.62 145.5,685.63 149.5,685.57 153.5,685.40 157.5,685.21 161.5,685.02 165.5,684.77 169.5,684.48 173.5,684.24 177.5,684.16 181.5,684.32 185.5,684.61 189.5,685.07 193.5,685.66 197.5,686.37 201.5,687.25 205.5,688.21 209.5,689.22 213.5,690.11 217.5,690.92 221.5,691.75 225.5,692.55 229.5,693.30 233.5,693.92 237.5,694.40 241.5,694.58 245.5,694.57 249.5,694.34 253.5,693.98 257.5,693.50 261.5,692.89 265.5,692.15 269.5,691.36 273.5,690.47 277.5,689.66 281.5,688.89 285.5,688.16 289.5,687.42 293.5,686.67 297.5,685.99 301.5,685.37 305.5,684.84 309.5,684.43 313.5,684.02 317.5,683.64 321.5,683.27 325.5,682.94 329.5,682.64 333.5,682.33 337.5,682.07 341.5,681.79 345.5,681.55 349.5,681.45 353.5,681.39 357.5,681.42 361.5,681.61 365.5,682.01 369.5,682.42 373.5,682.83 377.5,683.29 381.5,683.75 385.5,684.24 389.5,684.82 393.5,685.42 397.5,685.97 401.5,686.46 405.5,687.02 409.5,687.66 413.5,688.29 417.5,688.88 421.5,689.37 425.5,689.74 429.5,690.08 433.5,690.33 437.5,690.52 441.5,690.73 445.5,690.92 449.5,691.13 453.5,691.55 457.5,692.11 461.5,692.78 465.5,693.47 469.5,694.20 473.5,694.90 477.5,695.47 481.5,695.86 485.5,695.99 489.5,695.86 493.5,695.55 497.5,695.09 501.5,694.52 505.5,693.89 509.5,693.20 513.5,692.52 517.5,691.87 521.5,691.36 525.5,690.88 529.5,690.35 533.5,689.75 537.5,689.14 541.5,688.49 545.5,687.75 549.5,686.97 553.5,686.14 557.5,685.23 561.5,684.29 565.5,683.40 569.5,682.56 573.5,681.71 577.5,680.87 581.5,680.09 585.5,679.38 589.5,678.75 593.5,678.21 597.5,677.78 601.5,677.50 605.5,677.41 609.5,677.47 613.5,677.69 617.5,678.06 621.5,678.52 625.5,679.09 629.5,679.76 633.5,680.48 637.5,681.20 641.5,681.80 645.5,682.29 649.5,682.65 653.5,682.78 657.5,682.64 661.5,682.32 665.5,681.86 669.5,681.40 673.5,680.83 677.5,680.25 681.5,679.64 685.5,679.07 689.5,678.46 693.5,677.55 697.5,676.41 701.5,674.88 705.5,672.80 709.5,670.48 713.5,667.97 717.5,665.03 721.5,661.25 725.5,657.14 729.5,653.35 733.5,649.72 737.5,646.27 741.5,643.28 745.5,640.81 749.5,639.30 753.5,638.83 757.5,639.91 761.5,641.73 765.5,644.04 769.5,646.65 773.5,649.80 777.5,653.20 781.5,656.51 785.5,659.32 789.5,661.99 793.5,664.24 797.5,666.56 801.5,668.85 805.5,671.25 809.5,673.55 813.5,675.86 817.5,677.88 821.5,679.53 825.5,680.84 829.5,681.94 833.5,682.72 837.5,683.01 841.5,683.01 845.5,682.92 849.5,682.59 853.5,682.38 857.5,682.41 861.5,682.52 865.5,682.77 869.5,683.25 873.5,683.82 877.5,684.38 881.5,684.78 885.5,685.24 889.5,685.56 893.5,685.93 897.5,686.34 901.5,686.66 905.5,686.73 909.5,686.92 913.5,687.03 917.5,687.09 921.5,687.02 925.5,687.01 929.5,687.01 933.5,687.05 937.5,687.11 941.5,687.26 945.5,687.36 949.5,687.58 953.5,687.92 957.5,688.58 961.5,689.58 965.5,690.63 969.5,691.52 973.5,692.34 977.5,693.45 981.5,695.03 985.5,696.95 989.5,699.02 993.5,701.11 997.5,703.11 1001.5,705.08 1005.5,706.98 1009.5,708.85 1013.5,710.13 1017.5,710.74 1021.5,710.74 1025.5,710.31 1029.5,709.49 1033.5,708.35 1037.5,706.89 1041.5,705.26 1045.5,703.44 1049.5,701.84 1053.5,700.54 1057.5,699.39 1061.5,698.27 1065.5,697.06 1069.5,695.89 1073.5,694.71 1077.5,693.69 1081.5,692.85 1085.5,692.04 1089.5,691.25 1093.5,690.59 1097.5,690.21 1101.5,690.04 1105.5,690.05 1109.5,690.18 1113.5,690.26 1117.5,690.26 1121.5,690.26 1125.5,690.16 1129.5,690.16 1133.5,690.11 1137.5,690.06 1141.5,689.91 1145.5,689.83 1149.5,689.97 1153.5,690.31 1157.5,690.85 1161.5,691.51 1165.5,692.11 1169.5,692.75 1173.5,693.52 1177.5,694.36 1181.5,695.06 1185.5,695.60 1189.5,695.95 1193.5,696.04 1197.5,696.10 1201.5,696.29 1205.5,696.48 1209.5,696.46 1213.5,696.33 1217.5,696.26 1221.5,696.24 1225.5,696.31 1229.5,696.57 1233.5,696.84 1237.5,696.92 1241.5,696.99 1245.5,697.26 1249.5,697.66 1253.5,698.10 1257.5,698.45 1261.5,698.69 1265.5,698.72 1269.5,698.64" fill="none" stroke="#ff0000" stroke-width="1" stroke-dasharray="3,3"/>
</g>
<rect x="1598" y="686" width="2" height="1" fill="#000"/>
<text x="1601.5" y="637" font-size="10" fill="#000" stroke="#000" stroke-width="0.3" textLength="36.5" lengthAdjust="spacingAndGlyphs" >0.032972</text>
<text x="1601.5" y="689.5" font-size="10" fill="#000" stroke="#000" stroke-width="0.3" textLength="17.5" lengthAdjust="spacingAndGlyphs" >0.00</text>
<text x="1601.5" y="716" font-size="10" fill="#000" stroke="#000" stroke-width="0.3" textLength="39.5" lengthAdjust="spacingAndGlyphs" >-0.018154</text>
<rect x="5" y="719" width="1" height="3" fill="#000"/>
<text x="4.4" y="731" font-size="10" fill="#000" stroke="#000" stroke-width="0.3" textLength="52.2" lengthAdjust="spacingAndGlyphs" >22 Aug 2019</text>
<rect x="69" y="719" width="1" height="3" fill="#000"/>
<text x="68.3" y="731" font-size="10" fill="#000" stroke="#000" stroke-width="0.3" textLength="51.7" lengthAdjust="spacingAndGlyphs" >10 Sep 2019</text>
<rect x="133" y="719" width="1" height="3" fill="#000"/>
<text x="132.4" y="731" font-size="10" fill="#000" stroke="#000" stroke-width="0.3" textLength="51.7" lengthAdjust="spacingAndGlyphs" >28 Sep 2019</text>
<rect x="197" y="719" width="1" height="3" fill="#000"/>
<text x="196.2" y="731" font-size="10" fill="#000" stroke="#000" stroke-width="0.3" textLength="50.8" lengthAdjust="spacingAndGlyphs" >17 Oct 2019</text>
<rect x="261" y="719" width="1" height="3" fill="#000"/>
<text x="260.3" y="731" font-size="10" fill="#000" stroke="#000" stroke-width="0.3" textLength="48.7" lengthAdjust="spacingAndGlyphs" >5 Nov 2019</text>
<rect x="325" y="719" width="1" height="3" fill="#000"/>
<text x="324.2" y="731" font-size="10" fill="#000" stroke="#000" stroke-width="0.3" textLength="53.6" lengthAdjust="spacingAndGlyphs" >23 Nov 2019</text>
<rect x="389" y="719" width="1" height="3" fill="#000"/>
<text x="388.5" y="731" font-size="10" fill="#000" stroke="#000" stroke-width="0.3" textLength="51.2" lengthAdjust="spacingAndGlyphs" >12 Dec 2019</text>
<rect x="453" y="719" width="1" height="3" fill="#000"/>
<text x="451.9" y="731" font-size="10" fill="#000" stroke="#000" stroke-width="0.3" textLength="51.9" lengthAdjust="spacingAndGlyphs" >31 Dec 2019</text>
<rect x="517" y="719" width="1" height="3" fill="#000"/>
<text x="516" y="731" font-size="10" fill="#000" stroke="#000" stroke-width="0.3" textLength="50" lengthAdjust="spacingAndGlyphs" >18 Jan 2020</text>
<rect x="581" y="719" width="1" height="3" fill="#000"/>
<text x="580.4" y="731" font-size="10" fill="#000" stroke="#000" stroke-width="0.3" textLength="46.6" lengthAdjust="spacingAndGlyphs" >6 Feb 2020</text>
<rect x="645" y="719" width="1" height="3" fill="#000"/>
<text x="644.5" y="731" font-size="10" fill="#000" stroke="#000" stroke-width="0.3" textLength="51.7" lengthAdjust="spacingAndGlyphs" >25 Feb 2020</text>
<rect x="709" y="719" width="1" height="3" fill="#000"/>
<text x="708.6" y="731" font-size="10" fill="#000" stroke="#000" stroke-width="0.3" textLength="51.2" lengthAdjust="spacingAndGlyphs" >14 Mar 2020</text>
<rect x="773" y="719" width="1" height="3" fill="#000"/>
<text x="772.2" y="731" font-size="10" fill="#000" stroke="#000" stroke-width="0.3" textLength="45.6" lengthAdjust="spacingAndGlyphs" >2 Apr 2020</text>
<rect x="837" y="719" width="1" height="3" fill="#000"/>
<text x="836" y="731" font-size="10" fill="#000" stroke="#000" stroke-width="0.3" textLength="50.8" lengthAdjust="spacingAndGlyphs" >21 Apr 2020</text>
<rect x="901" y="719" width="1" height="3" fill="#000"/>
<text x="899.7" y="731" font-size="10" fill="#000" stroke="#000" stroke-width="0.3" textLength="50" lengthAdjust="spacingAndGlyphs" >9 May 2020</text>
<rect x="965" y="719" width="1" height="3" fill="#000"/>
<text x="964.3" y="731" font-size="10" fill="#000" stroke="#000" stroke-width="0.3" textLength="54.1" lengthAdjust="spacingAndGlyphs" >28 May 2020</text>
<rect x="1029" y="719" width="1" height="3" fill="#000"/>
<text x="1028.2" y="731" font-size="10" fill="#000" stroke="#000" stroke-width="0.3" textLength="49.5" lengthAdjust="spacingAndGlyphs" >16 Jun 2020</text>
<rect x="1093" y="719" width="1" height="3" fill="#000"/>
<text x="1091.6" y="731" font-size="10" fill="#000" stroke="#000" stroke-width="0.3" textLength="42.2" lengthAdjust="spacingAndGlyphs" >4 Jul 2020</text>
<rect x="1157" y="719" width="1" height="3" fill="#000"/>
<text x="1156.3" y="731" font-size="10" fill="#000" stroke="#000" stroke-width="0.3" textLength="46.3" lengthAdjust="spacingAndGlyphs" >23 Jul 2020</text>
<rect x="1221" y="719" width="1" height="3" fill="#000"/>
<text x="1220.3" y="731" font-size="10" fill="#000" stroke="#000" stroke-width="0.3" textLength="52.1" lengthAdjust="spacingAndGlyphs" >11 Aug 2020</text>
<rect x="0" y="739" width="1641" height="1" fill="#e3e3e3"/>
<rect x="0" y="741" width="1641" height="1" fill="#000"/>
<rect x="0" y="742" width="1641" height="1" fill="#ffffff"/>
<rect x="0" y="743" width="1641" height="18" fill="#f0f0f0"/>
<rect x="0" y="761" width="1641" height="1" fill="#ffffff"/>
<rect x="0" y="762" width="1641" height="2" fill="#f0f0f0"/>
<rect x="0" y="742" width="1" height="18" fill="#808080"/>
<rect x="315" y="740" width="102" height="19" fill="#ffffff"/>
<rect x="314" y="741" width="1" height="19" fill="#000"/>
<rect x="417" y="741" width="1" height="19" fill="#000"/>
<rect x="314" y="759" width="104" height="1" fill="#000"/>
<rect x="315" y="760" width="103" height="1" fill="#ffffff"/>
<text x="18" y="755.7" font-size="12" fill="#6d6d6d" textLength="80.5" lengthAdjust="spacingAndGlyphs" >EURUSD,Daily</text>
<text x="120" y="755.7" font-size="12" fill="#6d6d6d" textLength="79.5" lengthAdjust="spacingAndGlyphs" >USDCHF,Daily</text>
<text x="221" y="755.7" font-size="12" fill="#6d6d6d" textLength="82.5" lengthAdjust="spacingAndGlyphs" >AUDUSD,Daily</text>
<text x="325" y="755.7" font-size="12" fill="#000" textLength="80.6" lengthAdjust="spacingAndGlyphs" >USDCAD,Daily</text>
<text x="428.5" y="755.7" font-size="12" fill="#6d6d6d" textLength="83.0" lengthAdjust="spacingAndGlyphs" >USDCNH,Daily</text>
<text x="534.5" y="755.7" font-size="12" fill="#6d6d6d" textLength="80.0" lengthAdjust="spacingAndGlyphs" >EURUSD,Daily</text>
<text x="638.5" y="755.7" font-size="12" fill="#6d6d6d" textLength="68.0" lengthAdjust="spacingAndGlyphs" >GBPUSD,H4</text>
<text x="729" y="755.7" font-size="12" fill="#6d6d6d" textLength="69.5" lengthAdjust="spacingAndGlyphs" >XAUUSD,H1</text>
<text x="821.5" y="755.7" font-size="12" fill="#6d6d6d" textLength="49.0" lengthAdjust="spacingAndGlyphs" >HK50,H1</text>
<text x="893.5" y="755.7" font-size="12" fill="#6d6d6d" textLength="56.0" lengthAdjust="spacingAndGlyphs" >UK100,H1</text>
<text x="973" y="755.7" font-size="12" fill="#6d6d6d" textLength="56.5" lengthAdjust="spacingAndGlyphs" >UK100,H1</text>
<text x="1053" y="755.7" font-size="12" fill="#6d6d6d" textLength="56.5" lengthAdjust="spacingAndGlyphs" >GER30,H1</text>
<text x="1132" y="755.7" font-size="12" fill="#6d6d6d" textLength="54.5" lengthAdjust="spacingAndGlyphs" >FRA40,H1</text>
<text x="1208" y="755.7" font-size="12" fill="#6d6d6d" textLength="50.5" lengthAdjust="spacingAndGlyphs" >USOil,H4</text>
<text x="1279.5" y="755.7" font-size="12" fill="#6d6d6d" textLength="63.0" lengthAdjust="spacingAndGlyphs" >USDJPY,H1</text>
<text x="1363.5" y="755.7" font-size="12" fill="#6d6d6d" textLength="59.5" lengthAdjust="spacingAndGlyphs" >DJ30,Daily</text>
<text x="1444" y="755.7" font-size="12" fill="#6d6d6d" textLength="78.5" lengthAdjust="spacingAndGlyphs" >CHINA300,H1</text>
<text x="1544.7" y="755.7" font-size="12" fill="#6d6d6d" textLength="49.8" lengthAdjust="spacingAndGlyphs" >USOil,H1</text>
<rect x="110" y="744" width="1" height="14" fill="#808080"/>
<rect x="210" y="744" width="1" height="14" fill="#808080"/>
<rect x="522" y="744" width="1" height="14" fill="#808080"/>
<rect x="626" y="744" width="1" height="14" fill="#808080"/>
<rect x="718" y="744" width="1" height="14" fill="#808080"/>
<rect x="809" y="744" width="1" height="14" fill="#808080"/>
<rect x="882" y="744" width="1" height="14" fill="#808080"/>
<rect x="962" y="744" width="1" height="14" fill="#808080"/>
<rect x="1041" y="744" width="1" height="14" fill="#808080"/>
<rect x="1122" y="744" width="1" height="14" fill="#808080"/>
<rect x="1198" y="744" width="1" height="14" fill="#808080"/>
<rect x="1270" y="744" width="1" height="14" fill="#808080"/>
<rect x="1354" y="744" width="1" height="14" fill="#808080"/>
<rect x="1434" y="744" width="1" height="14" fill="#808080"/>
<rect x="1534" y="744" width="1" height="14" fill="#808080"/>
<rect x="1606" y="744" width="1" height="14" fill="#808080"/>
<path d="M1612.5,750 L1616.2,746.3 L1616.2,753.7 Z" fill="#a0a0a0"/>
<path d="M1635.7,750 L1632,746.3 L1632,753.7 Z" fill="#000"/>
</svg></body></html>
